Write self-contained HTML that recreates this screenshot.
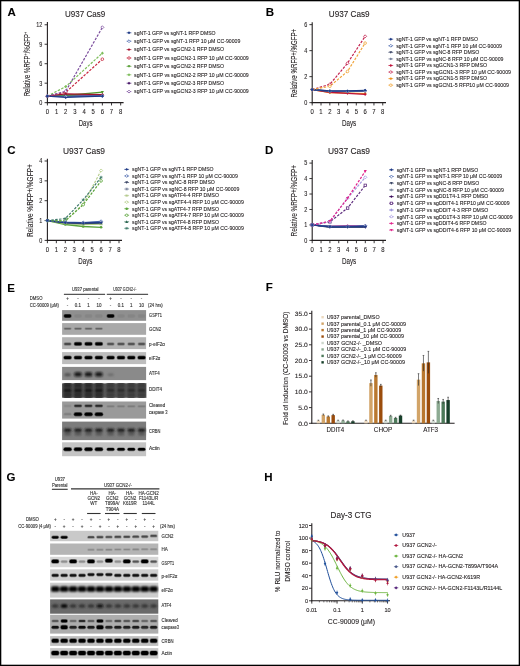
<!DOCTYPE html>
<html><head><meta charset="utf-8"><style>
html,body{margin:0;padding:0;background:#fff;}
svg{display:block;font-family:"Liberation Sans", sans-serif;will-change:transform;}
text{stroke:#231f20;stroke-width:0.1px;stroke-linejoin:round;}
.lt{stroke-width:0.12px;fill:#333;stroke:#333;}
.gp{text-rendering:geometricPrecision;}
</style></head><body>
<svg width="520" height="666" viewBox="0 0 520 666">
<defs><filter id="f1" filterUnits="userSpaceOnUse" x="62.10" y="366.90" width="84.00" height="13.20"><feGaussianBlur stdDeviation="0.9"/></filter><filter id="f2" filterUnits="userSpaceOnUse" x="62.10" y="383.50" width="84.00" height="14.10"><feGaussianBlur stdDeviation="0.9"/></filter><filter id="f3" filterUnits="userSpaceOnUse" x="62.10" y="421.60" width="84.00" height="18.50"><feGaussianBlur stdDeviation="0.9"/></filter><filter id="f4" filterUnits="userSpaceOnUse" x="50.10" y="582.70" width="108.20" height="14.90"><feGaussianBlur stdDeviation="0.9"/></filter><filter id="f5" filterUnits="userSpaceOnUse" x="50.10" y="599.40" width="108.20" height="14.30"><feGaussianBlur stdDeviation="0.9"/></filter></defs>
<rect width="520" height="666" fill="#fff"/>
<rect x="0.6" y="0.6" width="518.8" height="664.8" fill="none" stroke="#000" stroke-width="1.4"/>
<line x1="47.40" y1="22.00" x2="47.40" y2="103.20" stroke="#231f20" stroke-width="1.1"/>
<line x1="46.85" y1="102.65" x2="123.60" y2="102.65" stroke="#231f20" stroke-width="1.1"/>
<line x1="44.60" y1="102.65" x2="47.40" y2="102.65" stroke="#231f20" stroke-width="0.9"/>
<text x="42.40" y="105.00" font-size="6.6" fill="#231f20" text-anchor="end" textLength="3.05" lengthAdjust="spacingAndGlyphs">0</text>
<line x1="44.60" y1="83.18" x2="47.40" y2="83.18" stroke="#231f20" stroke-width="0.9"/>
<text x="42.40" y="85.53" font-size="6.6" fill="#231f20" text-anchor="end" textLength="3.05" lengthAdjust="spacingAndGlyphs">3</text>
<line x1="44.60" y1="63.71" x2="47.40" y2="63.71" stroke="#231f20" stroke-width="0.9"/>
<text x="42.40" y="66.06" font-size="6.6" fill="#231f20" text-anchor="end" textLength="3.05" lengthAdjust="spacingAndGlyphs">6</text>
<line x1="44.60" y1="44.24" x2="47.40" y2="44.24" stroke="#231f20" stroke-width="0.9"/>
<text x="42.40" y="46.59" font-size="6.6" fill="#231f20" text-anchor="end" textLength="3.05" lengthAdjust="spacingAndGlyphs">9</text>
<line x1="44.60" y1="24.77" x2="47.40" y2="24.77" stroke="#231f20" stroke-width="0.9"/>
<text x="42.40" y="27.12" font-size="6.6" fill="#231f20" text-anchor="end" textLength="6.10" lengthAdjust="spacingAndGlyphs">12</text>
<line x1="47.40" y1="102.65" x2="47.40" y2="105.45" stroke="#231f20" stroke-width="0.9"/>
<text x="47.40" y="114.10" font-size="6.9" fill="#231f20" text-anchor="middle" textLength="3.30" lengthAdjust="spacingAndGlyphs">0</text>
<line x1="56.56" y1="102.65" x2="56.56" y2="105.45" stroke="#231f20" stroke-width="0.9"/>
<text x="56.56" y="114.10" font-size="6.9" fill="#231f20" text-anchor="middle" textLength="3.30" lengthAdjust="spacingAndGlyphs">1</text>
<line x1="65.72" y1="102.65" x2="65.72" y2="105.45" stroke="#231f20" stroke-width="0.9"/>
<text x="65.72" y="114.10" font-size="6.9" fill="#231f20" text-anchor="middle" textLength="3.30" lengthAdjust="spacingAndGlyphs">2</text>
<line x1="74.88" y1="102.65" x2="74.88" y2="105.45" stroke="#231f20" stroke-width="0.9"/>
<text x="74.88" y="114.10" font-size="6.9" fill="#231f20" text-anchor="middle" textLength="3.30" lengthAdjust="spacingAndGlyphs">3</text>
<line x1="84.04" y1="102.65" x2="84.04" y2="105.45" stroke="#231f20" stroke-width="0.9"/>
<text x="84.04" y="114.10" font-size="6.9" fill="#231f20" text-anchor="middle" textLength="3.30" lengthAdjust="spacingAndGlyphs">4</text>
<line x1="93.20" y1="102.65" x2="93.20" y2="105.45" stroke="#231f20" stroke-width="0.9"/>
<text x="93.20" y="114.10" font-size="6.9" fill="#231f20" text-anchor="middle" textLength="3.30" lengthAdjust="spacingAndGlyphs">5</text>
<line x1="102.36" y1="102.65" x2="102.36" y2="105.45" stroke="#231f20" stroke-width="0.9"/>
<text x="102.36" y="114.10" font-size="6.9" fill="#231f20" text-anchor="middle" textLength="3.30" lengthAdjust="spacingAndGlyphs">6</text>
<line x1="111.52" y1="102.65" x2="111.52" y2="105.45" stroke="#231f20" stroke-width="0.9"/>
<text x="111.52" y="114.10" font-size="6.9" fill="#231f20" text-anchor="middle" textLength="3.30" lengthAdjust="spacingAndGlyphs">7</text>
<line x1="120.68" y1="102.65" x2="120.68" y2="105.45" stroke="#231f20" stroke-width="0.9"/>
<text x="120.68" y="114.10" font-size="6.9" fill="#231f20" text-anchor="middle" textLength="3.30" lengthAdjust="spacingAndGlyphs">8</text>
<text x="78.80" y="125.60" font-size="8.6" fill="#231f20" textLength="13.60" lengthAdjust="spacingAndGlyphs">Days</text>
<text x="65.00" y="16.70" font-size="8.4" fill="#231f20" textLength="40.20" lengthAdjust="spacingAndGlyphs">U937 Cas9</text>
<text x="7.40" y="16.20" font-size="11.5" fill="#000" font-weight="bold">A</text>
<text x="29.80" y="96.30" font-size="8.2" fill="#231f20" textLength="64.50" lengthAdjust="spacingAndGlyphs" transform="rotate(-90 29.80 96.30)">Relative %RFP<tspan font-size="5" dy="-2.5">+</tspan><tspan dy="2.5">/%GFP</tspan><tspan font-size="5" dy="-2.5">+</tspan></text>
<path d="M47.40,96.16L65.72,95.19L102.36,95.19" fill="none" stroke="#4b1a6b" stroke-width="1.3"/>
<path d="M47.40,96.16L65.72,95.51L102.36,92.14" fill="none" stroke="#4f9a2c" stroke-width="1.3"/>
<path d="M47.40,96.16L65.72,93.89L102.36,94.54" fill="none" stroke="#a3122e" stroke-width="1.3"/>
<path d="M47.40,96.16L65.72,96.48L102.36,95.84" fill="none" stroke="#4866ad" stroke-width="1.3"/>
<path d="M47.40,96.16L65.72,97.46L102.36,96.16" fill="none" stroke="#1f3b87" stroke-width="1.3"/>
<path d="M47.40,96.16L65.72,92.27L102.36,59.17" fill="none" stroke="#c8283f" stroke-width="1.2" stroke-dasharray="2.5,1.4"/>
<path d="M47.40,96.16L65.72,86.62L102.36,53.13" fill="none" stroke="#7dbd5a" stroke-width="1.2" stroke-dasharray="2.5,1.4"/>
<path d="M47.40,96.16L65.72,91.23L102.36,27.37" fill="none" stroke="#7b4d9d" stroke-width="1.2" stroke-dasharray="2.5,1.4"/>
<circle cx="47.40" cy="96.16" r="1.32" fill="#fff" stroke="#c8283f" stroke-width="0.8"/>
<circle cx="65.72" cy="92.27" r="1.32" fill="#fff" stroke="#c8283f" stroke-width="0.8"/>
<circle cx="102.36" cy="59.17" r="1.32" fill="#fff" stroke="#c8283f" stroke-width="0.8"/>
<path d="M45.85,96.16L47.40,94.61L48.95,96.16L47.40,97.71Z" fill="#7dbd5a"/>
<path d="M64.17,86.62L65.72,85.07L67.27,86.62L65.72,88.17Z" fill="#7dbd5a"/>
<path d="M100.81,53.13L102.36,51.58L103.91,53.13L102.36,54.68Z" fill="#7dbd5a"/>
<path d="M45.85,96.16L47.40,94.61L48.95,96.16L47.40,97.71Z" fill="#fff" stroke="#7b4d9d" stroke-width="0.8"/>
<path d="M64.17,91.23L65.72,89.68L67.27,91.23L65.72,92.78Z" fill="#fff" stroke="#7b4d9d" stroke-width="0.8"/>
<path d="M100.81,27.37L102.36,25.82L103.91,27.37L102.36,28.92Z" fill="#fff" stroke="#7b4d9d" stroke-width="0.8"/>
<path d="M45.85,96.16L47.40,94.61L48.95,96.16L47.40,97.71Z" fill="#4b1a6b"/>
<path d="M64.17,95.19L65.72,93.64L67.27,95.19L65.72,96.74Z" fill="#4b1a6b"/>
<path d="M100.81,95.19L102.36,93.64L103.91,95.19L102.36,96.74Z" fill="#4b1a6b"/>
<path d="M45.85,94.92L47.40,97.71L48.95,94.92Z" fill="#4f9a2c"/>
<path d="M64.17,94.27L65.72,97.06L67.27,94.27Z" fill="#4f9a2c"/>
<path d="M100.81,90.90L102.36,93.69L103.91,90.90Z" fill="#4f9a2c"/>
<path d="M45.85,96.16L47.40,94.61L48.95,96.16L47.40,97.71Z" fill="#a3122e"/>
<path d="M64.17,93.89L65.72,92.34L67.27,93.89L65.72,95.44Z" fill="#a3122e"/>
<path d="M100.81,94.54L102.36,92.99L103.91,94.54L102.36,96.09Z" fill="#a3122e"/>
<path d="M45.85,96.16L47.40,94.61L48.95,96.16L47.40,97.71Z" fill="#fff" stroke="#4866ad" stroke-width="0.8"/>
<path d="M64.17,96.48L65.72,94.93L67.27,96.48L65.72,98.03Z" fill="#fff" stroke="#4866ad" stroke-width="0.8"/>
<path d="M100.81,95.84L102.36,94.29L103.91,95.84L102.36,97.39Z" fill="#fff" stroke="#4866ad" stroke-width="0.8"/>
<path d="M45.85,96.16L47.40,94.61L48.95,96.16L47.40,97.71Z" fill="#1f3b87"/>
<path d="M64.17,97.46L65.72,95.91L67.27,97.46L65.72,99.01Z" fill="#1f3b87"/>
<path d="M100.81,96.16L102.36,94.61L103.91,96.16L102.36,97.71Z" fill="#1f3b87"/>
<line x1="126.60" y1="32.80" x2="131.40" y2="32.80" stroke="#1f3b87" stroke-width="0.7"/>
<path d="M127.55,32.80L129.00,31.35L130.45,32.80L129.00,34.25Z" fill="#1f3b87"/>
<text x="134.10" y="34.65" font-size="5.3" fill="#231f20" textLength="81.50" lengthAdjust="spacingAndGlyphs">sgNT-1 GFP vs sgNT-1 RFP DMSO</text>
<line x1="126.60" y1="41.20" x2="131.40" y2="41.20" stroke="#4866ad" stroke-width="0.7"/>
<path d="M127.55,41.20L129.00,39.75L130.45,41.20L129.00,42.65Z" fill="#fff" stroke="#4866ad" stroke-width="0.8"/>
<text x="134.10" y="43.05" font-size="5.3" fill="#231f20" textLength="106.30" lengthAdjust="spacingAndGlyphs">sgNT-1 GFP vs sgNT-1 RFP 10 μM CC-90009</text>
<line x1="126.60" y1="49.60" x2="131.40" y2="49.60" stroke="#a3122e" stroke-width="0.7"/>
<path d="M127.55,49.60L129.00,48.15L130.45,49.60L129.00,51.05Z" fill="#a3122e"/>
<text x="134.10" y="51.45" font-size="5.3" fill="#231f20" textLength="90.00" lengthAdjust="spacingAndGlyphs">sgNT-1 GFP vs sgGCN2-1 RFP DMSO</text>
<line x1="126.60" y1="58.00" x2="131.40" y2="58.00" stroke="#c8283f" stroke-width="0.7"/>
<circle cx="129.00" cy="58.00" r="1.23" fill="#fff" stroke="#c8283f" stroke-width="0.8"/>
<text x="134.10" y="59.85" font-size="5.3" fill="#231f20" textLength="114.60" lengthAdjust="spacingAndGlyphs">sgNT-1 GFP vs sgGCN2-1 RFP 10 μM CC-90009</text>
<line x1="126.60" y1="66.40" x2="131.40" y2="66.40" stroke="#4f9a2c" stroke-width="0.7"/>
<path d="M127.55,65.24L129.00,67.85L130.45,65.24Z" fill="#4f9a2c"/>
<text x="134.10" y="68.25" font-size="5.3" fill="#231f20" textLength="90.00" lengthAdjust="spacingAndGlyphs">sgNT-1 GFP vs sgGCN2-2 RFP DMSO</text>
<line x1="126.60" y1="74.80" x2="131.40" y2="74.80" stroke="#7dbd5a" stroke-width="0.7"/>
<path d="M127.55,74.80L129.00,73.35L130.45,74.80L129.00,76.25Z" fill="#7dbd5a"/>
<text x="134.10" y="76.65" font-size="5.3" fill="#231f20" textLength="114.60" lengthAdjust="spacingAndGlyphs">sgNT-1 GFP vs sgGCN2-2 RFP 10 μM CC-90009</text>
<line x1="126.60" y1="83.20" x2="131.40" y2="83.20" stroke="#4b1a6b" stroke-width="0.7"/>
<path d="M127.55,83.20L129.00,81.75L130.45,83.20L129.00,84.65Z" fill="#4b1a6b"/>
<text x="134.10" y="85.05" font-size="5.3" fill="#231f20" textLength="90.00" lengthAdjust="spacingAndGlyphs">sgNT-1 GFP vs sgGCN2-3 RFP DMSO</text>
<line x1="126.60" y1="91.60" x2="131.40" y2="91.60" stroke="#7b4d9d" stroke-width="0.7"/>
<path d="M127.55,91.60L129.00,90.15L130.45,91.60L129.00,93.05Z" fill="#fff" stroke="#7b4d9d" stroke-width="0.8"/>
<text x="134.10" y="93.45" font-size="5.3" fill="#231f20" textLength="114.60" lengthAdjust="spacingAndGlyphs">sgNT-1 GFP vs sgGCN2-3 RFP 10 μM CC-90009</text>
<line x1="312.20" y1="22.20" x2="312.20" y2="103.20" stroke="#231f20" stroke-width="1.1"/>
<line x1="311.65" y1="102.65" x2="386.00" y2="102.65" stroke="#231f20" stroke-width="1.1"/>
<line x1="309.40" y1="102.65" x2="312.20" y2="102.65" stroke="#231f20" stroke-width="0.9"/>
<text x="307.20" y="105.00" font-size="6.6" fill="#231f20" text-anchor="end" textLength="3.05" lengthAdjust="spacingAndGlyphs">0</text>
<line x1="309.40" y1="76.65" x2="312.20" y2="76.65" stroke="#231f20" stroke-width="0.9"/>
<text x="307.20" y="79.00" font-size="6.6" fill="#231f20" text-anchor="end" textLength="3.05" lengthAdjust="spacingAndGlyphs">2</text>
<line x1="309.40" y1="50.65" x2="312.20" y2="50.65" stroke="#231f20" stroke-width="0.9"/>
<text x="307.20" y="53.00" font-size="6.6" fill="#231f20" text-anchor="end" textLength="3.05" lengthAdjust="spacingAndGlyphs">4</text>
<line x1="309.40" y1="24.65" x2="312.20" y2="24.65" stroke="#231f20" stroke-width="0.9"/>
<text x="307.20" y="27.00" font-size="6.6" fill="#231f20" text-anchor="end" textLength="3.05" lengthAdjust="spacingAndGlyphs">6</text>
<line x1="312.20" y1="102.65" x2="312.20" y2="105.45" stroke="#231f20" stroke-width="0.9"/>
<text x="312.20" y="114.10" font-size="6.9" fill="#231f20" text-anchor="middle" textLength="3.30" lengthAdjust="spacingAndGlyphs">0</text>
<line x1="321.02" y1="102.65" x2="321.02" y2="105.45" stroke="#231f20" stroke-width="0.9"/>
<text x="321.02" y="114.10" font-size="6.9" fill="#231f20" text-anchor="middle" textLength="3.30" lengthAdjust="spacingAndGlyphs">1</text>
<line x1="329.84" y1="102.65" x2="329.84" y2="105.45" stroke="#231f20" stroke-width="0.9"/>
<text x="329.84" y="114.10" font-size="6.9" fill="#231f20" text-anchor="middle" textLength="3.30" lengthAdjust="spacingAndGlyphs">2</text>
<line x1="338.66" y1="102.65" x2="338.66" y2="105.45" stroke="#231f20" stroke-width="0.9"/>
<text x="338.66" y="114.10" font-size="6.9" fill="#231f20" text-anchor="middle" textLength="3.30" lengthAdjust="spacingAndGlyphs">3</text>
<line x1="347.48" y1="102.65" x2="347.48" y2="105.45" stroke="#231f20" stroke-width="0.9"/>
<text x="347.48" y="114.10" font-size="6.9" fill="#231f20" text-anchor="middle" textLength="3.30" lengthAdjust="spacingAndGlyphs">4</text>
<line x1="356.30" y1="102.65" x2="356.30" y2="105.45" stroke="#231f20" stroke-width="0.9"/>
<text x="356.30" y="114.10" font-size="6.9" fill="#231f20" text-anchor="middle" textLength="3.30" lengthAdjust="spacingAndGlyphs">5</text>
<line x1="365.12" y1="102.65" x2="365.12" y2="105.45" stroke="#231f20" stroke-width="0.9"/>
<text x="365.12" y="114.10" font-size="6.9" fill="#231f20" text-anchor="middle" textLength="3.30" lengthAdjust="spacingAndGlyphs">6</text>
<line x1="373.94" y1="102.65" x2="373.94" y2="105.45" stroke="#231f20" stroke-width="0.9"/>
<text x="373.94" y="114.10" font-size="6.9" fill="#231f20" text-anchor="middle" textLength="3.30" lengthAdjust="spacingAndGlyphs">7</text>
<line x1="382.76" y1="102.65" x2="382.76" y2="105.45" stroke="#231f20" stroke-width="0.9"/>
<text x="382.76" y="114.10" font-size="6.9" fill="#231f20" text-anchor="middle" textLength="3.30" lengthAdjust="spacingAndGlyphs">8</text>
<text x="341.90" y="125.60" font-size="8.6" fill="#231f20" textLength="14.30" lengthAdjust="spacingAndGlyphs">Days</text>
<text x="328.80" y="16.70" font-size="8.4" fill="#231f20" textLength="40.70" lengthAdjust="spacingAndGlyphs">U937 Cas9</text>
<text x="265.80" y="16.20" font-size="11.5" fill="#000" font-weight="bold">B</text>
<text x="297.00" y="97.40" font-size="8.4" fill="#231f20" textLength="68.60" lengthAdjust="spacingAndGlyphs" transform="rotate(-90 297.00 97.40)">Relative %RFP+/%GFP+</text>
<path d="M312.20,89.65L329.84,92.51L347.48,93.03L365.12,93.55" fill="none" stroke="#ef8f1a" stroke-width="1.3"/>
<path d="M312.20,89.65L329.84,92.25L347.48,93.29L365.12,94.33" fill="none" stroke="#c0123a" stroke-width="1.3"/>
<path d="M312.20,89.65L329.84,90.95L347.48,91.21L365.12,90.56" fill="none" stroke="#737d98" stroke-width="1.3"/>
<path d="M312.20,89.65L329.84,91.47L347.48,91.60L365.12,91.21" fill="none" stroke="#3a4565" stroke-width="1.3"/>
<path d="M312.20,89.65L329.84,91.21L347.48,91.47L365.12,90.95" fill="none" stroke="#4866ad" stroke-width="1.3"/>
<path d="M312.20,89.65L329.84,90.95L347.48,90.95L365.12,90.30" fill="none" stroke="#1f3b87" stroke-width="1.3"/>
<path d="M312.20,89.65L329.84,84.32L347.48,63.26L365.12,36.35" fill="none" stroke="#c4234f" stroke-width="1.2" stroke-dasharray="2.5,1.4"/>
<path d="M312.20,89.65L329.84,86.27L347.48,71.45L365.12,43.11" fill="none" stroke="#f0a43a" stroke-width="1.2" stroke-dasharray="2.5,1.4"/>
<path d="M310.65,89.65L312.20,88.10L313.75,89.65L312.20,91.20Z" fill="#fff" stroke="#c4234f" stroke-width="0.8"/>
<path d="M328.29,84.32L329.84,82.77L331.39,84.32L329.84,85.87Z" fill="#fff" stroke="#c4234f" stroke-width="0.8"/>
<path d="M345.93,63.26L347.48,61.71L349.03,63.26L347.48,64.81Z" fill="#fff" stroke="#c4234f" stroke-width="0.8"/>
<path d="M363.57,36.35L365.12,34.80L366.67,36.35L365.12,37.90Z" fill="#fff" stroke="#c4234f" stroke-width="0.8"/>
<circle cx="312.20" cy="89.65" r="1.32" fill="#fff" stroke="#f0a43a" stroke-width="0.8"/>
<circle cx="329.84" cy="86.27" r="1.32" fill="#fff" stroke="#f0a43a" stroke-width="0.8"/>
<circle cx="347.48" cy="71.45" r="1.32" fill="#fff" stroke="#f0a43a" stroke-width="0.8"/>
<circle cx="365.12" cy="43.11" r="1.32" fill="#fff" stroke="#f0a43a" stroke-width="0.8"/>
<circle cx="312.20" cy="89.65" r="1.32" fill="#ef8f1a"/>
<circle cx="329.84" cy="92.51" r="1.32" fill="#ef8f1a"/>
<circle cx="347.48" cy="93.03" r="1.32" fill="#ef8f1a"/>
<circle cx="365.12" cy="93.55" r="1.32" fill="#ef8f1a"/>
<path d="M310.65,89.65L312.20,88.10L313.75,89.65L312.20,91.20Z" fill="#c0123a"/>
<path d="M328.29,92.25L329.84,90.70L331.39,92.25L329.84,93.80Z" fill="#c0123a"/>
<path d="M345.93,93.29L347.48,91.74L349.03,93.29L347.48,94.84Z" fill="#c0123a"/>
<path d="M363.57,94.33L365.12,92.78L366.67,94.33L365.12,95.88Z" fill="#c0123a"/>
<path d="M310.65,89.65L312.20,88.10L313.75,89.65L312.20,91.20Z" fill="#737d98"/>
<path d="M328.29,90.95L329.84,89.40L331.39,90.95L329.84,92.50Z" fill="#737d98"/>
<path d="M345.93,91.21L347.48,89.66L349.03,91.21L347.48,92.76Z" fill="#737d98"/>
<path d="M363.57,90.56L365.12,89.01L366.67,90.56L365.12,92.11Z" fill="#737d98"/>
<path d="M310.65,88.41L312.20,91.20L313.75,88.41Z" fill="#3a4565"/>
<path d="M328.29,90.23L329.84,93.02L331.39,90.23Z" fill="#3a4565"/>
<path d="M345.93,90.36L347.48,93.15L349.03,90.36Z" fill="#3a4565"/>
<path d="M363.57,89.97L365.12,92.76L366.67,89.97Z" fill="#3a4565"/>
<path d="M310.65,89.65L312.20,88.10L313.75,89.65L312.20,91.20Z" fill="#fff" stroke="#4866ad" stroke-width="0.8"/>
<path d="M328.29,91.21L329.84,89.66L331.39,91.21L329.84,92.76Z" fill="#fff" stroke="#4866ad" stroke-width="0.8"/>
<path d="M345.93,91.47L347.48,89.92L349.03,91.47L347.48,93.02Z" fill="#fff" stroke="#4866ad" stroke-width="0.8"/>
<path d="M363.57,90.95L365.12,89.40L366.67,90.95L365.12,92.50Z" fill="#fff" stroke="#4866ad" stroke-width="0.8"/>
<path d="M310.65,89.65L312.20,88.10L313.75,89.65L312.20,91.20Z" fill="#1f3b87"/>
<path d="M328.29,90.95L329.84,89.40L331.39,90.95L329.84,92.50Z" fill="#1f3b87"/>
<path d="M345.93,90.95L347.48,89.40L349.03,90.95L347.48,92.50Z" fill="#1f3b87"/>
<path d="M363.57,90.30L365.12,88.75L366.67,90.30L365.12,91.85Z" fill="#1f3b87"/>
<line x1="388.40" y1="39.20" x2="393.20" y2="39.20" stroke="#1f3b87" stroke-width="0.7"/>
<path d="M389.35,39.20L390.80,37.75L392.25,39.20L390.80,40.65Z" fill="#1f3b87"/>
<text x="396.20" y="41.05" font-size="5.3" fill="#231f20" textLength="81.75" lengthAdjust="spacingAndGlyphs">sgNT-1 GFP vs sgNT-1 RFP DMSO</text>
<line x1="388.40" y1="45.77" x2="393.20" y2="45.77" stroke="#4866ad" stroke-width="0.7"/>
<path d="M389.35,45.77L390.80,44.32L392.25,45.77L390.80,47.22Z" fill="#fff" stroke="#4866ad" stroke-width="0.8"/>
<text x="396.20" y="47.62" font-size="5.3" fill="#231f20" textLength="105.80" lengthAdjust="spacingAndGlyphs">sgNT-1 GFP vs sgNT-1 RFP 10 μM CC-90009</text>
<line x1="388.40" y1="52.34" x2="393.20" y2="52.34" stroke="#3a4565" stroke-width="0.7"/>
<path d="M389.35,51.18L390.80,53.79L392.25,51.18Z" fill="#3a4565"/>
<text x="396.20" y="54.19" font-size="5.3" fill="#231f20" textLength="83.00" lengthAdjust="spacingAndGlyphs">sgNT-1 GFP vs sgNC-8 RFP DMSO</text>
<line x1="388.40" y1="58.91" x2="393.20" y2="58.91" stroke="#737d98" stroke-width="0.7"/>
<path d="M389.35,58.91L390.80,57.46L392.25,58.91L390.80,60.36Z" fill="#737d98"/>
<text x="396.20" y="60.76" font-size="5.3" fill="#231f20" textLength="107.30" lengthAdjust="spacingAndGlyphs">sgNT-1 GFP vs sgNC-8 RFP 10 μM CC-90009</text>
<line x1="388.40" y1="65.48" x2="393.20" y2="65.48" stroke="#c0123a" stroke-width="0.7"/>
<path d="M389.35,65.48L390.80,64.03L392.25,65.48L390.80,66.93Z" fill="#c0123a"/>
<text x="396.20" y="67.33" font-size="5.3" fill="#231f20" textLength="90.80" lengthAdjust="spacingAndGlyphs">sgNT-1 GFP vs sgGCN1-3 RFP DMSO</text>
<line x1="388.40" y1="72.05" x2="393.20" y2="72.05" stroke="#c4234f" stroke-width="0.7"/>
<path d="M389.35,72.05L390.80,70.60L392.25,72.05L390.80,73.50Z" fill="#fff" stroke="#c4234f" stroke-width="0.8"/>
<text x="396.20" y="73.90" font-size="5.3" fill="#231f20" textLength="114.80" lengthAdjust="spacingAndGlyphs">sgNT-1 GFP vs sgGCN1-3 RFP 10 μM CC-90009</text>
<line x1="388.40" y1="78.62" x2="393.20" y2="78.62" stroke="#ef8f1a" stroke-width="0.7"/>
<circle cx="390.80" cy="78.62" r="1.23" fill="#ef8f1a"/>
<text x="396.20" y="80.47" font-size="5.3" fill="#231f20" textLength="90.80" lengthAdjust="spacingAndGlyphs">sgNT-1 GFP vs sgGCN1-5 RFP DMSO</text>
<line x1="388.40" y1="85.19" x2="393.20" y2="85.19" stroke="#f0a43a" stroke-width="0.7"/>
<circle cx="390.80" cy="85.19" r="1.23" fill="#fff" stroke="#f0a43a" stroke-width="0.8"/>
<text x="396.20" y="87.04" font-size="5.3" fill="#231f20" textLength="112.80" lengthAdjust="spacingAndGlyphs">sgNT-1 GFP vs sgGCN1-5 RFP10 μM CC-90009</text>
<line x1="47.40" y1="158.80" x2="47.40" y2="240.95" stroke="#231f20" stroke-width="1.1"/>
<line x1="46.85" y1="240.40" x2="122.00" y2="240.40" stroke="#231f20" stroke-width="1.1"/>
<line x1="44.60" y1="240.40" x2="47.40" y2="240.40" stroke="#231f20" stroke-width="0.9"/>
<text x="42.40" y="242.75" font-size="6.6" fill="#231f20" text-anchor="end" textLength="3.05" lengthAdjust="spacingAndGlyphs">0</text>
<line x1="44.60" y1="220.55" x2="47.40" y2="220.55" stroke="#231f20" stroke-width="0.9"/>
<text x="42.40" y="222.90" font-size="6.6" fill="#231f20" text-anchor="end" textLength="3.05" lengthAdjust="spacingAndGlyphs">1</text>
<line x1="44.60" y1="200.70" x2="47.40" y2="200.70" stroke="#231f20" stroke-width="0.9"/>
<text x="42.40" y="203.05" font-size="6.6" fill="#231f20" text-anchor="end" textLength="3.05" lengthAdjust="spacingAndGlyphs">2</text>
<line x1="44.60" y1="180.85" x2="47.40" y2="180.85" stroke="#231f20" stroke-width="0.9"/>
<text x="42.40" y="183.20" font-size="6.6" fill="#231f20" text-anchor="end" textLength="3.05" lengthAdjust="spacingAndGlyphs">3</text>
<line x1="44.60" y1="161.00" x2="47.40" y2="161.00" stroke="#231f20" stroke-width="0.9"/>
<text x="42.40" y="163.35" font-size="6.6" fill="#231f20" text-anchor="end" textLength="3.05" lengthAdjust="spacingAndGlyphs">4</text>
<line x1="47.40" y1="240.40" x2="47.40" y2="243.20" stroke="#231f20" stroke-width="0.9"/>
<text x="47.40" y="251.80" font-size="6.9" fill="#231f20" text-anchor="middle" textLength="3.30" lengthAdjust="spacingAndGlyphs">0</text>
<line x1="56.35" y1="240.40" x2="56.35" y2="243.20" stroke="#231f20" stroke-width="0.9"/>
<text x="56.35" y="251.80" font-size="6.9" fill="#231f20" text-anchor="middle" textLength="3.30" lengthAdjust="spacingAndGlyphs">1</text>
<line x1="65.30" y1="240.40" x2="65.30" y2="243.20" stroke="#231f20" stroke-width="0.9"/>
<text x="65.30" y="251.80" font-size="6.9" fill="#231f20" text-anchor="middle" textLength="3.30" lengthAdjust="spacingAndGlyphs">2</text>
<line x1="74.25" y1="240.40" x2="74.25" y2="243.20" stroke="#231f20" stroke-width="0.9"/>
<text x="74.25" y="251.80" font-size="6.9" fill="#231f20" text-anchor="middle" textLength="3.30" lengthAdjust="spacingAndGlyphs">3</text>
<line x1="83.20" y1="240.40" x2="83.20" y2="243.20" stroke="#231f20" stroke-width="0.9"/>
<text x="83.20" y="251.80" font-size="6.9" fill="#231f20" text-anchor="middle" textLength="3.30" lengthAdjust="spacingAndGlyphs">4</text>
<line x1="92.15" y1="240.40" x2="92.15" y2="243.20" stroke="#231f20" stroke-width="0.9"/>
<text x="92.15" y="251.80" font-size="6.9" fill="#231f20" text-anchor="middle" textLength="3.30" lengthAdjust="spacingAndGlyphs">5</text>
<line x1="101.10" y1="240.40" x2="101.10" y2="243.20" stroke="#231f20" stroke-width="0.9"/>
<text x="101.10" y="251.80" font-size="6.9" fill="#231f20" text-anchor="middle" textLength="3.30" lengthAdjust="spacingAndGlyphs">6</text>
<line x1="110.05" y1="240.40" x2="110.05" y2="243.20" stroke="#231f20" stroke-width="0.9"/>
<text x="110.05" y="251.80" font-size="6.9" fill="#231f20" text-anchor="middle" textLength="3.30" lengthAdjust="spacingAndGlyphs">7</text>
<line x1="119.00" y1="240.40" x2="119.00" y2="243.20" stroke="#231f20" stroke-width="0.9"/>
<text x="119.00" y="251.80" font-size="6.9" fill="#231f20" text-anchor="middle" textLength="3.30" lengthAdjust="spacingAndGlyphs">8</text>
<text x="78.30" y="263.70" font-size="8.6" fill="#231f20" textLength="14.00" lengthAdjust="spacingAndGlyphs">Days</text>
<text x="63.00" y="154.00" font-size="8.4" fill="#231f20" textLength="42.00" lengthAdjust="spacingAndGlyphs">U937 Cas9</text>
<text x="7.20" y="153.90" font-size="11.5" fill="#000" font-weight="bold">C</text>
<text x="33.30" y="237.00" font-size="8.4" fill="#231f20" textLength="72.80" lengthAdjust="spacingAndGlyphs" transform="rotate(-90 33.30 237.00)">Relative %RFP+/%GFP+</text>
<path d="M47.40,220.55L65.30,223.53L83.20,223.73L101.10,223.33" fill="none" stroke="#28644f" stroke-width="1.3"/>
<path d="M47.40,220.55L65.30,224.52L83.20,226.50L101.10,227.30" fill="none" stroke="#5aa43a" stroke-width="1.3"/>
<path d="M47.40,220.55L65.30,223.33L83.20,224.52L101.10,224.12" fill="none" stroke="#b3c98a" stroke-width="1.3"/>
<path d="M47.40,220.55L65.30,222.53L83.20,222.93L101.10,222.14" fill="none" stroke="#737d98" stroke-width="1.3"/>
<path d="M47.40,220.55L65.30,222.93L83.20,223.53L101.10,222.93" fill="none" stroke="#3a4565" stroke-width="1.3"/>
<path d="M47.40,220.55L65.30,222.14L83.20,222.53L101.10,221.34" fill="none" stroke="#4866ad" stroke-width="1.3"/>
<path d="M47.40,220.55L65.30,222.53L83.20,222.93L101.10,222.53" fill="none" stroke="#1f3b87" stroke-width="1.3"/>
<path d="M47.40,220.55L65.30,220.55L83.20,204.27L101.10,170.53" fill="none" stroke="#b8cf8e" stroke-width="1.2" stroke-dasharray="2.5,1.4"/>
<path d="M47.40,220.55L65.30,220.95L83.20,204.67L101.10,180.85" fill="none" stroke="#5aa43a" stroke-width="1.2" stroke-dasharray="2.5,1.4"/>
<path d="M47.40,220.55L65.30,218.56L83.20,199.91L101.10,177.28" fill="none" stroke="#3d7868" stroke-width="1.2" stroke-dasharray="2.5,1.4"/>
<path d="M45.85,220.55L47.40,219.00L48.95,220.55L47.40,222.10Z" fill="#fff" stroke="#b8cf8e" stroke-width="0.8"/>
<path d="M63.75,220.55L65.30,219.00L66.85,220.55L65.30,222.10Z" fill="#fff" stroke="#b8cf8e" stroke-width="0.8"/>
<path d="M81.65,204.27L83.20,202.72L84.75,204.27L83.20,205.82Z" fill="#fff" stroke="#b8cf8e" stroke-width="0.8"/>
<path d="M99.55,170.53L101.10,168.98L102.65,170.53L101.10,172.08Z" fill="#fff" stroke="#b8cf8e" stroke-width="0.8"/>
<circle cx="47.40" cy="220.55" r="1.32" fill="#fff" stroke="#5aa43a" stroke-width="0.8"/>
<circle cx="65.30" cy="220.95" r="1.32" fill="#fff" stroke="#5aa43a" stroke-width="0.8"/>
<circle cx="83.20" cy="204.67" r="1.32" fill="#fff" stroke="#5aa43a" stroke-width="0.8"/>
<circle cx="101.10" cy="180.85" r="1.32" fill="#fff" stroke="#5aa43a" stroke-width="0.8"/>
<path d="M45.85,220.55H48.95M47.40,219.00V222.10M46.31,219.47L48.48,221.64M46.31,221.64L48.48,219.47" stroke="#3d7868" stroke-width="0.6"/>
<path d="M63.75,218.56H66.85M65.30,217.01V220.12M64.22,217.48L66.38,219.65M64.22,219.65L66.38,217.48" stroke="#3d7868" stroke-width="0.6"/>
<path d="M81.65,199.91H84.75M83.20,198.36V201.46M82.11,198.82L84.28,200.99M82.11,200.99L84.28,198.82" stroke="#3d7868" stroke-width="0.6"/>
<path d="M99.55,177.28H102.65M101.10,175.73V178.83M100.02,176.19L102.18,178.36M100.02,178.36L102.18,176.19" stroke="#3d7868" stroke-width="0.6"/>
<path d="M45.85,221.79L47.40,219.00L48.95,221.79Z" fill="#28644f"/>
<path d="M63.75,224.77L65.30,221.98L66.85,224.77Z" fill="#28644f"/>
<path d="M81.65,224.97L83.20,222.18L84.75,224.97Z" fill="#28644f"/>
<path d="M99.55,224.57L101.10,221.78L102.65,224.57Z" fill="#28644f"/>
<circle cx="47.40" cy="220.55" r="1.32" fill="#5aa43a"/>
<circle cx="65.30" cy="224.52" r="1.32" fill="#5aa43a"/>
<circle cx="83.20" cy="226.50" r="1.32" fill="#5aa43a"/>
<circle cx="101.10" cy="227.30" r="1.32" fill="#5aa43a"/>
<path d="M45.85,220.55H48.95M47.40,219.00V222.10M46.31,219.47L48.48,221.64M46.31,221.64L48.48,219.47" stroke="#b3c98a" stroke-width="0.6"/>
<path d="M63.75,223.33H66.85M65.30,221.78V224.88M64.22,222.24L66.38,224.41M64.22,224.41L66.38,222.24" stroke="#b3c98a" stroke-width="0.6"/>
<path d="M81.65,224.52H84.75M83.20,222.97V226.07M82.11,223.44L84.28,225.61M82.11,225.61L84.28,223.44" stroke="#b3c98a" stroke-width="0.6"/>
<path d="M99.55,224.12H102.65M101.10,222.57V225.67M100.02,223.04L102.18,225.21M100.02,225.21L102.18,223.04" stroke="#b3c98a" stroke-width="0.6"/>
<path d="M45.85,220.55H48.95M47.40,219.00V222.10M46.31,219.47L48.48,221.64M46.31,221.64L48.48,219.47" stroke="#737d98" stroke-width="0.6"/>
<path d="M63.75,222.53H66.85M65.30,220.98V224.09M64.22,221.45L66.38,223.62M64.22,223.62L66.38,221.45" stroke="#737d98" stroke-width="0.6"/>
<path d="M81.65,222.93H84.75M83.20,221.38V224.48M82.11,221.85L84.28,224.02M82.11,224.02L84.28,221.85" stroke="#737d98" stroke-width="0.6"/>
<path d="M99.55,222.14H102.65M101.10,220.59V223.69M100.02,221.05L102.18,223.22M100.02,223.22L102.18,221.05" stroke="#737d98" stroke-width="0.6"/>
<path d="M45.85,219.31L47.40,222.10L48.95,219.31Z" fill="#3a4565"/>
<path d="M63.75,221.69L65.30,224.48L66.85,221.69Z" fill="#3a4565"/>
<path d="M81.65,222.29L83.20,225.08L84.75,222.29Z" fill="#3a4565"/>
<path d="M99.55,221.69L101.10,224.48L102.65,221.69Z" fill="#3a4565"/>
<path d="M45.85,220.55L47.40,219.00L48.95,220.55L47.40,222.10Z" fill="#fff" stroke="#4866ad" stroke-width="0.8"/>
<path d="M63.75,222.14L65.30,220.59L66.85,222.14L65.30,223.69Z" fill="#fff" stroke="#4866ad" stroke-width="0.8"/>
<path d="M81.65,222.53L83.20,220.98L84.75,222.53L83.20,224.09Z" fill="#fff" stroke="#4866ad" stroke-width="0.8"/>
<path d="M99.55,221.34L101.10,219.79L102.65,221.34L101.10,222.89Z" fill="#fff" stroke="#4866ad" stroke-width="0.8"/>
<path d="M45.85,220.55L47.40,219.00L48.95,220.55L47.40,222.10Z" fill="#1f3b87"/>
<path d="M63.75,222.53L65.30,220.98L66.85,222.53L65.30,224.09Z" fill="#1f3b87"/>
<path d="M81.65,222.93L83.20,221.38L84.75,222.93L83.20,224.48Z" fill="#1f3b87"/>
<path d="M99.55,222.53L101.10,220.98L102.65,222.53L101.10,224.09Z" fill="#1f3b87"/>
<line x1="124.30" y1="169.40" x2="129.10" y2="169.40" stroke="#1f3b87" stroke-width="0.7"/>
<path d="M125.25,169.40L126.70,167.95L128.15,169.40L126.70,170.85Z" fill="#1f3b87"/>
<text x="132.10" y="171.25" font-size="5.3" fill="#231f20" textLength="81.50" lengthAdjust="spacingAndGlyphs">sgNT-1 GFP vs sgNT-1 RFP DMSO</text>
<line x1="124.30" y1="175.95" x2="129.10" y2="175.95" stroke="#4866ad" stroke-width="0.7"/>
<path d="M125.25,175.95L126.70,174.50L128.15,175.95L126.70,177.40Z" fill="#fff" stroke="#4866ad" stroke-width="0.8"/>
<text x="132.10" y="177.80" font-size="5.3" fill="#231f20" textLength="105.70" lengthAdjust="spacingAndGlyphs">sgNT-1 GFP vs sgNT-1 RFP 10 μM CC-90009</text>
<line x1="124.30" y1="182.50" x2="129.10" y2="182.50" stroke="#3a4565" stroke-width="0.7"/>
<path d="M125.25,181.34L126.70,183.95L128.15,181.34Z" fill="#3a4565"/>
<text x="132.10" y="184.35" font-size="5.3" fill="#231f20" textLength="82.80" lengthAdjust="spacingAndGlyphs">sgNT-1 GFP vs sgNC-8 RFP DMSO</text>
<line x1="124.30" y1="189.05" x2="129.10" y2="189.05" stroke="#737d98" stroke-width="0.7"/>
<path d="M125.25,189.05H128.15M126.70,187.60V190.50M125.69,188.04L127.72,190.06M125.69,190.06L127.72,188.04" stroke="#737d98" stroke-width="0.6"/>
<text x="132.10" y="190.90" font-size="5.3" fill="#231f20" textLength="107.30" lengthAdjust="spacingAndGlyphs">sgNT-1 GFP vs sgNC-8 RFP 10 μM CC-90009</text>
<line x1="124.30" y1="195.60" x2="129.10" y2="195.60" stroke="#b3c98a" stroke-width="0.7"/>
<path d="M125.25,195.60H128.15M126.70,194.15V197.05M125.69,194.59L127.72,196.61M125.69,196.61L127.72,194.59" stroke="#b3c98a" stroke-width="0.6"/>
<text x="132.10" y="197.45" font-size="5.3" fill="#231f20" textLength="86.80" lengthAdjust="spacingAndGlyphs">sgNT-1 GFP vs sgATF4-4 RFP DMSO</text>
<line x1="124.30" y1="202.15" x2="129.10" y2="202.15" stroke="#b8cf8e" stroke-width="0.7"/>
<path d="M125.25,202.15L126.70,200.70L128.15,202.15L126.70,203.60Z" fill="#fff" stroke="#b8cf8e" stroke-width="0.8"/>
<text x="132.10" y="204.00" font-size="5.3" fill="#231f20" textLength="111.70" lengthAdjust="spacingAndGlyphs">sgNT-1 GFP vs sgATF4-4 RFP 10 μM CC-90009</text>
<line x1="124.30" y1="208.70" x2="129.10" y2="208.70" stroke="#5aa43a" stroke-width="0.7"/>
<circle cx="126.70" cy="208.70" r="1.23" fill="#5aa43a"/>
<text x="132.10" y="210.55" font-size="5.3" fill="#231f20" textLength="86.80" lengthAdjust="spacingAndGlyphs">sgNT-1 GFP vs sgATF4-7 RFP DMSO</text>
<line x1="124.30" y1="215.25" x2="129.10" y2="215.25" stroke="#5aa43a" stroke-width="0.7"/>
<circle cx="126.70" cy="215.25" r="1.23" fill="#fff" stroke="#5aa43a" stroke-width="0.8"/>
<text x="132.10" y="217.10" font-size="5.3" fill="#231f20" textLength="111.70" lengthAdjust="spacingAndGlyphs">sgNT-1 GFP vs sgATF4-7 RFP 10 μM CC-90009</text>
<line x1="124.30" y1="221.80" x2="129.10" y2="221.80" stroke="#28644f" stroke-width="0.7"/>
<path d="M125.25,222.96L126.70,220.35L128.15,222.96Z" fill="#28644f"/>
<text x="132.10" y="223.65" font-size="5.3" fill="#231f20" textLength="86.80" lengthAdjust="spacingAndGlyphs">sgNT-1 GFP vs sgATF4-8 RFP DMSO</text>
<line x1="124.30" y1="228.35" x2="129.10" y2="228.35" stroke="#3d7868" stroke-width="0.7"/>
<path d="M125.25,228.35H128.15M126.70,226.90V229.80M125.69,227.34L127.72,229.36M125.69,229.36L127.72,227.34" stroke="#3d7868" stroke-width="0.6"/>
<text x="132.10" y="230.20" font-size="5.3" fill="#231f20" textLength="111.70" lengthAdjust="spacingAndGlyphs">sgNT-1 GFP vs sgATF4-8 RFP 10 μM CC-90009</text>
<line x1="312.20" y1="160.00" x2="312.20" y2="240.95" stroke="#231f20" stroke-width="1.1"/>
<line x1="311.65" y1="240.40" x2="386.00" y2="240.40" stroke="#231f20" stroke-width="1.1"/>
<line x1="309.40" y1="240.40" x2="312.20" y2="240.40" stroke="#231f20" stroke-width="0.9"/>
<text x="307.20" y="242.75" font-size="6.6" fill="#231f20" text-anchor="end" textLength="3.05" lengthAdjust="spacingAndGlyphs">0</text>
<line x1="309.40" y1="224.94" x2="312.20" y2="224.94" stroke="#231f20" stroke-width="0.9"/>
<text x="307.20" y="227.29" font-size="6.6" fill="#231f20" text-anchor="end" textLength="3.05" lengthAdjust="spacingAndGlyphs">1</text>
<line x1="309.40" y1="209.48" x2="312.20" y2="209.48" stroke="#231f20" stroke-width="0.9"/>
<text x="307.20" y="211.83" font-size="6.6" fill="#231f20" text-anchor="end" textLength="3.05" lengthAdjust="spacingAndGlyphs">2</text>
<line x1="309.40" y1="194.02" x2="312.20" y2="194.02" stroke="#231f20" stroke-width="0.9"/>
<text x="307.20" y="196.37" font-size="6.6" fill="#231f20" text-anchor="end" textLength="3.05" lengthAdjust="spacingAndGlyphs">3</text>
<line x1="309.40" y1="178.56" x2="312.20" y2="178.56" stroke="#231f20" stroke-width="0.9"/>
<text x="307.20" y="180.91" font-size="6.6" fill="#231f20" text-anchor="end" textLength="3.05" lengthAdjust="spacingAndGlyphs">4</text>
<line x1="309.40" y1="163.10" x2="312.20" y2="163.10" stroke="#231f20" stroke-width="0.9"/>
<text x="307.20" y="165.45" font-size="6.6" fill="#231f20" text-anchor="end" textLength="3.05" lengthAdjust="spacingAndGlyphs">5</text>
<line x1="312.20" y1="240.40" x2="312.20" y2="243.20" stroke="#231f20" stroke-width="0.9"/>
<text x="312.20" y="251.80" font-size="6.9" fill="#231f20" text-anchor="middle" textLength="3.30" lengthAdjust="spacingAndGlyphs">0</text>
<line x1="321.05" y1="240.40" x2="321.05" y2="243.20" stroke="#231f20" stroke-width="0.9"/>
<text x="321.05" y="251.80" font-size="6.9" fill="#231f20" text-anchor="middle" textLength="3.30" lengthAdjust="spacingAndGlyphs">1</text>
<line x1="329.90" y1="240.40" x2="329.90" y2="243.20" stroke="#231f20" stroke-width="0.9"/>
<text x="329.90" y="251.80" font-size="6.9" fill="#231f20" text-anchor="middle" textLength="3.30" lengthAdjust="spacingAndGlyphs">2</text>
<line x1="338.75" y1="240.40" x2="338.75" y2="243.20" stroke="#231f20" stroke-width="0.9"/>
<text x="338.75" y="251.80" font-size="6.9" fill="#231f20" text-anchor="middle" textLength="3.30" lengthAdjust="spacingAndGlyphs">3</text>
<line x1="347.60" y1="240.40" x2="347.60" y2="243.20" stroke="#231f20" stroke-width="0.9"/>
<text x="347.60" y="251.80" font-size="6.9" fill="#231f20" text-anchor="middle" textLength="3.30" lengthAdjust="spacingAndGlyphs">4</text>
<line x1="356.45" y1="240.40" x2="356.45" y2="243.20" stroke="#231f20" stroke-width="0.9"/>
<text x="356.45" y="251.80" font-size="6.9" fill="#231f20" text-anchor="middle" textLength="3.30" lengthAdjust="spacingAndGlyphs">5</text>
<line x1="365.30" y1="240.40" x2="365.30" y2="243.20" stroke="#231f20" stroke-width="0.9"/>
<text x="365.30" y="251.80" font-size="6.9" fill="#231f20" text-anchor="middle" textLength="3.30" lengthAdjust="spacingAndGlyphs">6</text>
<line x1="374.15" y1="240.40" x2="374.15" y2="243.20" stroke="#231f20" stroke-width="0.9"/>
<text x="374.15" y="251.80" font-size="6.9" fill="#231f20" text-anchor="middle" textLength="3.30" lengthAdjust="spacingAndGlyphs">7</text>
<line x1="383.00" y1="240.40" x2="383.00" y2="243.20" stroke="#231f20" stroke-width="0.9"/>
<text x="383.00" y="251.80" font-size="6.9" fill="#231f20" text-anchor="middle" textLength="3.30" lengthAdjust="spacingAndGlyphs">8</text>
<text x="341.90" y="263.70" font-size="8.6" fill="#231f20" textLength="14.30" lengthAdjust="spacingAndGlyphs">Days</text>
<text x="328.00" y="154.00" font-size="8.4" fill="#231f20" textLength="42.00" lengthAdjust="spacingAndGlyphs">U937 Cas9</text>
<text x="264.90" y="153.90" font-size="11.5" fill="#000" font-weight="bold">D</text>
<text x="297.40" y="236.40" font-size="8.4" fill="#231f20" textLength="71.50" lengthAdjust="spacingAndGlyphs" transform="rotate(-90 297.40 236.40)">Relative %RFP+/%GFP+</text>
<path d="M312.20,224.94L329.90,226.49L347.60,225.87L365.30,225.71" fill="none" stroke="#e2238c" stroke-width="1.3"/>
<path d="M312.20,224.94L329.90,226.80L347.60,226.49L365.30,227.10" fill="none" stroke="#8a7fd4" stroke-width="1.3"/>
<path d="M312.20,224.94L329.90,226.49L347.60,226.49L365.30,226.80" fill="none" stroke="#3b0b5c" stroke-width="1.3"/>
<path d="M312.20,224.94L329.90,226.49L347.60,226.80L365.30,226.18" fill="none" stroke="#737d98" stroke-width="1.3"/>
<path d="M312.20,224.94L329.90,227.26L347.60,227.10L365.30,227.10" fill="none" stroke="#3a4565" stroke-width="1.3"/>
<path d="M312.20,224.94L329.90,226.49L347.60,226.49L365.30,225.71" fill="none" stroke="#4866ad" stroke-width="1.3"/>
<path d="M312.20,224.94L329.90,226.80L347.60,226.80L365.30,226.49" fill="none" stroke="#1f3b87" stroke-width="1.3"/>
<path d="M312.20,224.94L329.90,221.85L347.60,208.09L365.30,185.36" fill="none" stroke="#5e2d7e" stroke-width="1.2" stroke-dasharray="2.5,1.4"/>
<path d="M312.20,224.94L329.90,221.23L347.60,198.19L365.30,177.32" fill="none" stroke="#a396e0" stroke-width="1.2" stroke-dasharray="2.5,1.4"/>
<path d="M312.20,224.94L329.90,221.23L347.60,198.19L365.30,171.14" fill="none" stroke="#e2238c" stroke-width="1.2" stroke-dasharray="2.5,1.4"/>
<rect x="310.96" y="223.70" width="2.48" height="2.48" fill="#fff" stroke="#5e2d7e" stroke-width="0.8"/>
<rect x="328.66" y="220.61" width="2.48" height="2.48" fill="#fff" stroke="#5e2d7e" stroke-width="0.8"/>
<rect x="346.36" y="206.85" width="2.48" height="2.48" fill="#fff" stroke="#5e2d7e" stroke-width="0.8"/>
<rect x="364.06" y="184.12" width="2.48" height="2.48" fill="#fff" stroke="#5e2d7e" stroke-width="0.8"/>
<path d="M310.65,224.94L312.20,223.39L313.75,224.94L312.20,226.49Z" fill="#fff" stroke="#a396e0" stroke-width="0.8"/>
<path d="M328.35,221.23L329.90,219.68L331.45,221.23L329.90,222.78Z" fill="#fff" stroke="#a396e0" stroke-width="0.8"/>
<path d="M346.05,198.19L347.60,196.64L349.15,198.19L347.60,199.74Z" fill="#fff" stroke="#a396e0" stroke-width="0.8"/>
<path d="M363.75,177.32L365.30,175.77L366.85,177.32L365.30,178.87Z" fill="#fff" stroke="#a396e0" stroke-width="0.8"/>
<path d="M310.65,223.70L312.20,226.49L313.75,223.70Z" fill="#e2238c"/>
<path d="M328.35,219.99L329.90,222.78L331.45,219.99Z" fill="#e2238c"/>
<path d="M346.05,196.95L347.60,199.74L349.15,196.95Z" fill="#e2238c"/>
<path d="M363.75,169.90L365.30,172.69L366.85,169.90Z" fill="#e2238c"/>
<path d="M310.65,224.94L312.20,223.39L313.75,224.94L312.20,226.49Z" fill="#e2238c"/>
<path d="M328.35,226.49L329.90,224.94L331.45,226.49L329.90,228.04Z" fill="#e2238c"/>
<path d="M346.05,225.87L347.60,224.32L349.15,225.87L347.60,227.42Z" fill="#e2238c"/>
<path d="M363.75,225.71L365.30,224.16L366.85,225.71L365.30,227.26Z" fill="#e2238c"/>
<path d="M310.65,224.94H313.75M312.20,223.39V226.49" stroke="#8a7fd4" stroke-width="0.7"/>
<path d="M328.35,226.80H331.45M329.90,225.25V228.35" stroke="#8a7fd4" stroke-width="0.7"/>
<path d="M346.05,226.49H349.15M347.60,224.94V228.04" stroke="#8a7fd4" stroke-width="0.7"/>
<path d="M363.75,227.10H366.85M365.30,225.55V228.65" stroke="#8a7fd4" stroke-width="0.7"/>
<path d="M310.65,224.94L312.20,223.39L313.75,224.94L312.20,226.49Z" fill="#3b0b5c"/>
<path d="M328.35,226.49L329.90,224.94L331.45,226.49L329.90,228.04Z" fill="#3b0b5c"/>
<path d="M346.05,226.49L347.60,224.94L349.15,226.49L347.60,228.04Z" fill="#3b0b5c"/>
<path d="M363.75,226.80L365.30,225.25L366.85,226.80L365.30,228.35Z" fill="#3b0b5c"/>
<path d="M310.65,224.94H313.75M312.20,223.39V226.49M311.12,223.85L313.28,226.03M311.12,226.03L313.28,223.85" stroke="#737d98" stroke-width="0.6"/>
<path d="M328.35,226.49H331.45M329.90,224.94V228.04M328.81,225.40L330.98,227.57M328.81,227.57L330.98,225.40" stroke="#737d98" stroke-width="0.6"/>
<path d="M346.05,226.80H349.15M347.60,225.25V228.35M346.51,225.71L348.68,227.88M346.51,227.88L348.68,225.71" stroke="#737d98" stroke-width="0.6"/>
<path d="M363.75,226.18H366.85M365.30,224.63V227.73M364.21,225.09L366.38,227.26M364.21,227.26L366.38,225.09" stroke="#737d98" stroke-width="0.6"/>
<path d="M310.65,223.70L312.20,226.49L313.75,223.70Z" fill="#3a4565"/>
<path d="M328.35,226.02L329.90,228.81L331.45,226.02Z" fill="#3a4565"/>
<path d="M346.05,225.86L347.60,228.65L349.15,225.86Z" fill="#3a4565"/>
<path d="M363.75,225.86L365.30,228.65L366.85,225.86Z" fill="#3a4565"/>
<path d="M310.65,224.94L312.20,223.39L313.75,224.94L312.20,226.49Z" fill="#fff" stroke="#4866ad" stroke-width="0.8"/>
<path d="M328.35,226.49L329.90,224.94L331.45,226.49L329.90,228.04Z" fill="#fff" stroke="#4866ad" stroke-width="0.8"/>
<path d="M346.05,226.49L347.60,224.94L349.15,226.49L347.60,228.04Z" fill="#fff" stroke="#4866ad" stroke-width="0.8"/>
<path d="M363.75,225.71L365.30,224.16L366.85,225.71L365.30,227.26Z" fill="#fff" stroke="#4866ad" stroke-width="0.8"/>
<path d="M310.65,224.94L312.20,223.39L313.75,224.94L312.20,226.49Z" fill="#1f3b87"/>
<path d="M328.35,226.80L329.90,225.25L331.45,226.80L329.90,228.35Z" fill="#1f3b87"/>
<path d="M346.05,226.80L347.60,225.25L349.15,226.80L347.60,228.35Z" fill="#1f3b87"/>
<path d="M363.75,226.49L365.30,224.94L366.85,226.49L365.30,228.04Z" fill="#1f3b87"/>
<line x1="389.00" y1="169.80" x2="393.80" y2="169.80" stroke="#1f3b87" stroke-width="0.7"/>
<path d="M389.95,169.80L391.40,168.35L392.85,169.80L391.40,171.25Z" fill="#1f3b87"/>
<text x="396.80" y="171.65" font-size="5.3" fill="#231f20" textLength="81.50" lengthAdjust="spacingAndGlyphs">sgNT-1 GFP vs sgNT-1 RFP DMSO</text>
<line x1="389.00" y1="176.50" x2="393.80" y2="176.50" stroke="#4866ad" stroke-width="0.7"/>
<path d="M389.95,176.50L391.40,175.05L392.85,176.50L391.40,177.95Z" fill="#fff" stroke="#4866ad" stroke-width="0.8"/>
<text x="396.80" y="178.35" font-size="5.3" fill="#231f20" textLength="105.40" lengthAdjust="spacingAndGlyphs">sgNT-1 GFP vs sgNT-1 RFP 10 μM CC-90009</text>
<line x1="389.00" y1="183.20" x2="393.80" y2="183.20" stroke="#3a4565" stroke-width="0.7"/>
<path d="M389.95,182.04L391.40,184.65L392.85,182.04Z" fill="#3a4565"/>
<text x="396.80" y="185.05" font-size="5.3" fill="#231f20" textLength="82.50" lengthAdjust="spacingAndGlyphs">sgNT-1 GFP vs sgNC-8 RFP DMSO</text>
<line x1="389.00" y1="189.90" x2="393.80" y2="189.90" stroke="#737d98" stroke-width="0.7"/>
<path d="M389.95,189.90H392.85M391.40,188.45V191.35M390.38,188.89L392.41,190.91M390.38,190.91L392.41,188.89" stroke="#737d98" stroke-width="0.6"/>
<text x="396.80" y="191.75" font-size="5.3" fill="#231f20" textLength="107.00" lengthAdjust="spacingAndGlyphs">sgNT-1 GFP vs sgNC-8 RFP 10 μM CC-90009</text>
<line x1="389.00" y1="196.60" x2="393.80" y2="196.60" stroke="#3b0b5c" stroke-width="0.7"/>
<path d="M389.95,196.60L391.40,195.15L392.85,196.60L391.40,198.05Z" fill="#3b0b5c"/>
<text x="396.80" y="198.45" font-size="5.3" fill="#231f20" textLength="91.60" lengthAdjust="spacingAndGlyphs">sgNT-1 GFP vs sgDD1T4-1 RFP DMSO</text>
<line x1="389.00" y1="203.30" x2="393.80" y2="203.30" stroke="#5e2d7e" stroke-width="0.7"/>
<rect x="390.24" y="202.14" width="2.32" height="2.32" fill="#fff" stroke="#5e2d7e" stroke-width="0.8"/>
<text x="396.80" y="205.15" font-size="5.3" fill="#231f20" textLength="112.80" lengthAdjust="spacingAndGlyphs">sgNT-1 GFP vs sgDDIT4-1 RFP10 μM CC-90009</text>
<line x1="389.00" y1="210.00" x2="393.80" y2="210.00" stroke="#8a7fd4" stroke-width="0.7"/>
<path d="M389.95,210.00H392.85M391.40,208.55V211.45" stroke="#8a7fd4" stroke-width="0.7"/>
<text x="396.80" y="211.85" font-size="5.3" fill="#231f20" textLength="91.60" lengthAdjust="spacingAndGlyphs">sgNT-1 GFP vs sgDDIT 4-3 RFP DMSO</text>
<line x1="389.00" y1="216.70" x2="393.80" y2="216.70" stroke="#a396e0" stroke-width="0.7"/>
<path d="M389.95,216.70L391.40,215.25L392.85,216.70L391.40,218.15Z" fill="#fff" stroke="#a396e0" stroke-width="0.8"/>
<text x="396.80" y="218.55" font-size="5.3" fill="#231f20" textLength="115.80" lengthAdjust="spacingAndGlyphs">sgNT-1 GFP vs sgDD1T4-3 RFP 10 μM CC-90009</text>
<line x1="389.00" y1="223.40" x2="393.80" y2="223.40" stroke="#e2238c" stroke-width="0.7"/>
<path d="M389.95,223.40L391.40,221.95L392.85,223.40L391.40,224.85Z" fill="#e2238c"/>
<text x="396.80" y="225.25" font-size="5.3" fill="#231f20" textLength="89.80" lengthAdjust="spacingAndGlyphs">sgNT-1 GFP vs sgDDIT4-6 RFP DMSO</text>
<line x1="389.00" y1="230.10" x2="393.80" y2="230.10" stroke="#e2238c" stroke-width="0.7"/>
<path d="M389.95,228.94L391.40,231.55L392.85,228.94Z" fill="#e2238c"/>
<text x="396.80" y="231.95" font-size="5.3" fill="#231f20" textLength="114.40" lengthAdjust="spacingAndGlyphs">sgNT-1 GFP vs sgDDIT4-6 RFP 10 μM CC-90009</text>
<text x="7.20" y="291.60" font-size="11.5" fill="#000" font-weight="bold">E</text>
<text x="85.20" y="291.20" font-size="4.5" fill="#231f20" text-anchor="middle" textLength="26.50" lengthAdjust="spacingAndGlyphs" class="lt">U937 parental</text>
<text x="124.80" y="291.20" font-size="4.5" fill="#231f20" text-anchor="middle" textLength="23.20" lengthAdjust="spacingAndGlyphs" class="lt">U937 GCN2-/-</text>
<line x1="63.90" y1="294.40" x2="105.10" y2="294.40" stroke="#555" stroke-width="1.2"/>
<line x1="106.80" y1="294.40" x2="148.10" y2="294.40" stroke="#555" stroke-width="1.2"/>
<text x="29.80" y="299.50" font-size="4.5" fill="#231f20" textLength="12.60" lengthAdjust="spacingAndGlyphs" class="lt">DMSO</text>
<text x="29.80" y="307.40" font-size="4.5" fill="#231f20" textLength="29.00" lengthAdjust="spacingAndGlyphs" class="lt">CC-90009 (μM)</text>
<text x="67.60" y="299.60" font-size="4.5" fill="#231f20" text-anchor="middle" class="lt">+</text>
<text x="78.00" y="299.60" font-size="4.5" fill="#231f20" text-anchor="middle" class="lt">-</text>
<text x="88.50" y="299.60" font-size="4.5" fill="#231f20" text-anchor="middle" class="lt">-</text>
<text x="98.90" y="299.60" font-size="4.5" fill="#231f20" text-anchor="middle" class="lt">-</text>
<text x="110.60" y="299.60" font-size="4.5" fill="#231f20" text-anchor="middle" class="lt">+</text>
<text x="121.00" y="299.60" font-size="4.5" fill="#231f20" text-anchor="middle" class="lt">-</text>
<text x="131.30" y="299.60" font-size="4.5" fill="#231f20" text-anchor="middle" class="lt">-</text>
<text x="141.60" y="299.60" font-size="4.5" fill="#231f20" text-anchor="middle" class="lt">-</text>
<text x="67.60" y="307.40" font-size="4.5" fill="#231f20" text-anchor="middle" class="lt">-</text>
<text x="78.00" y="307.40" font-size="4.5" fill="#231f20" text-anchor="middle" class="lt">0.1</text>
<text x="88.50" y="307.40" font-size="4.5" fill="#231f20" text-anchor="middle" class="lt">1</text>
<text x="98.90" y="307.40" font-size="4.5" fill="#231f20" text-anchor="middle" class="lt">10</text>
<text x="110.60" y="307.40" font-size="4.5" fill="#231f20" text-anchor="middle" class="lt">-</text>
<text x="121.00" y="307.40" font-size="4.5" fill="#231f20" text-anchor="middle" class="lt">0.1</text>
<text x="131.30" y="307.40" font-size="4.5" fill="#231f20" text-anchor="middle" class="lt">1</text>
<text x="141.60" y="307.40" font-size="4.5" fill="#231f20" text-anchor="middle" class="lt">10</text>
<text x="148.10" y="307.00" font-size="4.5" fill="#231f20" textLength="14.60" lengthAdjust="spacingAndGlyphs" class="lt">(24 hrs)</text>
<text x="149.10" y="317.20" font-size="4.5" fill="#231f20" textLength="12.90" lengthAdjust="spacingAndGlyphs" class="lt">GSPT1</text>
<text x="149.10" y="330.50" font-size="4.5" fill="#231f20" textLength="12.10" lengthAdjust="spacingAndGlyphs" class="lt">GCN2</text>
<text x="149.10" y="346.10" font-size="4.5" fill="#231f20" textLength="15.90" lengthAdjust="spacingAndGlyphs" class="lt">p-eIF2α</text>
<text x="149.10" y="359.80" font-size="4.5" fill="#231f20" textLength="11.30" lengthAdjust="spacingAndGlyphs" class="lt">eIF2α</text>
<text x="149.10" y="374.90" font-size="4.5" fill="#231f20" textLength="10.60" lengthAdjust="spacingAndGlyphs" class="lt">ATF4</text>
<text x="149.10" y="390.50" font-size="4.5" fill="#231f20" textLength="13.00" lengthAdjust="spacingAndGlyphs" class="lt">DDIT4</text>
<text x="149.10" y="433.30" font-size="4.5" fill="#231f20" textLength="11.30" lengthAdjust="spacingAndGlyphs" class="lt">CRBN</text>
<text x="149.10" y="449.90" font-size="4.5" fill="#231f20" textLength="10.60" lengthAdjust="spacingAndGlyphs" class="lt">Actin</text>
<text x="149.10" y="407.00" font-size="4.5" fill="#231f20" textLength="16.10" lengthAdjust="spacingAndGlyphs" class="lt">Cleaved</text>
<text x="149.10" y="414.00" font-size="4.5" fill="#231f20" textLength="18.50" lengthAdjust="spacingAndGlyphs" class="lt">caspase 3</text>
<rect x="62.10" y="310.10" width="84.00" height="10.70" fill="#8f8f8f"/>
<g><rect x="63.40" y="313.90" width="8.40" height="4.20" rx="2.10" fill="#000" opacity="0.45"/><rect x="64.10" y="314.60" width="7.00" height="2.80" rx="1.40" fill="#000"/><rect x="74.00" y="314.10" width="8.00" height="3.80" rx="1.90" fill="#858585" opacity="0.45"/><rect x="74.70" y="314.80" width="6.60" height="2.40" rx="1.20" fill="#858585"/><rect x="84.50" y="314.10" width="8.00" height="3.80" rx="1.90" fill="#858585" opacity="0.45"/><rect x="85.20" y="314.80" width="6.60" height="2.40" rx="1.20" fill="#858585"/><rect x="94.90" y="314.10" width="8.00" height="3.80" rx="1.90" fill="#858585" opacity="0.45"/><rect x="95.60" y="314.80" width="6.60" height="2.40" rx="1.20" fill="#858585"/><rect x="106.40" y="313.90" width="8.40" height="4.20" rx="2.10" fill="#000" opacity="0.45"/><rect x="107.10" y="314.60" width="7.00" height="2.80" rx="1.40" fill="#000"/><rect x="117.00" y="314.10" width="8.00" height="3.80" rx="1.90" fill="#858585" opacity="0.45"/><rect x="117.70" y="314.80" width="6.60" height="2.40" rx="1.20" fill="#858585"/><rect x="127.30" y="314.10" width="8.00" height="3.80" rx="1.90" fill="#858585" opacity="0.45"/><rect x="128.00" y="314.80" width="6.60" height="2.40" rx="1.20" fill="#858585"/><rect x="137.60" y="314.10" width="8.00" height="3.80" rx="1.90" fill="#858585" opacity="0.45"/><rect x="138.30" y="314.80" width="6.60" height="2.40" rx="1.20" fill="#858585"/></g>
<rect x="62.10" y="323.10" width="84.00" height="11.70" fill="#a9a9a9"/>
<g><rect x="63.70" y="327.55" width="7.80" height="2.30" rx="1.15" fill="#5a5a5a" opacity="0.45"/><rect x="64.40" y="328.25" width="6.40" height="0.90" rx="0.45" fill="#5a5a5a"/><rect x="74.10" y="327.55" width="7.80" height="2.30" rx="1.15" fill="#5a5a5a" opacity="0.45"/><rect x="74.80" y="328.25" width="6.40" height="0.90" rx="0.45" fill="#5a5a5a"/><rect x="84.60" y="327.55" width="7.80" height="2.30" rx="1.15" fill="#5a5a5a" opacity="0.45"/><rect x="85.30" y="328.25" width="6.40" height="0.90" rx="0.45" fill="#5a5a5a"/><rect x="95.00" y="327.55" width="7.80" height="2.30" rx="1.15" fill="#5a5a5a" opacity="0.45"/><rect x="95.70" y="328.25" width="6.40" height="0.90" rx="0.45" fill="#5a5a5a"/></g>
<rect x="62.10" y="337.20" width="84.00" height="11.90" fill="#b3b3b3"/>
<g><rect x="63.60" y="342.30" width="8.00" height="3.40" rx="1.70" fill="#4a4a4a" opacity="0.45"/><rect x="64.30" y="343.00" width="6.60" height="2.00" rx="1.00" fill="#4a4a4a"/><rect x="73.70" y="341.80" width="8.60" height="4.20" rx="2.10" fill="#000" opacity="0.45"/><rect x="74.40" y="342.50" width="7.20" height="2.80" rx="1.40" fill="#000"/><rect x="84.20" y="341.80" width="8.60" height="4.20" rx="2.10" fill="#000" opacity="0.45"/><rect x="84.90" y="342.50" width="7.20" height="2.80" rx="1.40" fill="#000"/><rect x="94.60" y="341.80" width="8.60" height="4.20" rx="2.10" fill="#000" opacity="0.45"/><rect x="95.30" y="342.50" width="7.20" height="2.80" rx="1.40" fill="#000"/><rect x="106.60" y="342.30" width="8.00" height="3.40" rx="1.70" fill="#555" opacity="0.45"/><rect x="107.30" y="343.00" width="6.60" height="2.00" rx="1.00" fill="#555"/><rect x="117.00" y="342.30" width="8.00" height="3.40" rx="1.70" fill="#555" opacity="0.45"/><rect x="117.70" y="343.00" width="6.60" height="2.00" rx="1.00" fill="#555"/><rect x="127.30" y="342.30" width="8.00" height="3.40" rx="1.70" fill="#555" opacity="0.45"/><rect x="128.00" y="343.00" width="6.60" height="2.00" rx="1.00" fill="#555"/><rect x="137.60" y="342.30" width="8.00" height="3.40" rx="1.70" fill="#555" opacity="0.45"/><rect x="138.30" y="343.00" width="6.60" height="2.00" rx="1.00" fill="#555"/></g>
<rect x="62.10" y="352.10" width="84.00" height="12.00" fill="#bdbdbd"/>
<g><rect x="63.20" y="355.60" width="8.80" height="4.20" rx="2.10" fill="#000" opacity="0.45"/><rect x="63.90" y="356.30" width="7.40" height="2.80" rx="1.40" fill="#000"/><rect x="73.60" y="355.60" width="8.80" height="4.20" rx="2.10" fill="#000" opacity="0.45"/><rect x="74.30" y="356.30" width="7.40" height="2.80" rx="1.40" fill="#000"/><rect x="84.10" y="355.60" width="8.80" height="4.20" rx="2.10" fill="#000" opacity="0.45"/><rect x="84.80" y="356.30" width="7.40" height="2.80" rx="1.40" fill="#000"/><rect x="94.50" y="355.60" width="8.80" height="4.20" rx="2.10" fill="#000" opacity="0.45"/><rect x="95.20" y="356.30" width="7.40" height="2.80" rx="1.40" fill="#000"/><rect x="106.20" y="355.60" width="8.80" height="4.20" rx="2.10" fill="#000" opacity="0.45"/><rect x="106.90" y="356.30" width="7.40" height="2.80" rx="1.40" fill="#000"/><rect x="116.60" y="355.60" width="8.80" height="4.20" rx="2.10" fill="#000" opacity="0.45"/><rect x="117.30" y="356.30" width="7.40" height="2.80" rx="1.40" fill="#000"/><rect x="126.90" y="355.60" width="8.80" height="4.20" rx="2.10" fill="#000" opacity="0.45"/><rect x="127.60" y="356.30" width="7.40" height="2.80" rx="1.40" fill="#000"/><rect x="137.20" y="355.60" width="8.80" height="4.20" rx="2.10" fill="#000" opacity="0.45"/><rect x="137.90" y="356.30" width="7.40" height="2.80" rx="1.40" fill="#000"/></g>
<rect x="62.10" y="366.90" width="84.00" height="13.20" fill="#8a8a8a"/>
<g filter="url(#f1)"><rect x="64.40" y="373.30" width="6.40" height="3.00" rx="1.50" fill="#505050"/><rect x="74.30" y="372.20" width="7.40" height="4.40" rx="1.50" fill="#141414"/><rect x="84.80" y="372.20" width="7.40" height="4.40" rx="1.50" fill="#141414"/><rect x="95.20" y="372.20" width="7.40" height="4.40" rx="1.50" fill="#141414"/><rect x="107.60" y="373.50" width="6.00" height="2.60" rx="1.30" fill="#6a6a6a"/></g>
<rect x="62.10" y="383.50" width="84.00" height="14.10" fill="#5a5a5a"/>
<g filter="url(#f2)"><rect x="63.30" y="381.0" width="8.6" height="19.0" fill="#383838"/><rect x="73.70" y="381.0" width="8.6" height="19.0" fill="#383838"/><rect x="84.20" y="381.0" width="8.6" height="19.0" fill="#383838"/><rect x="94.60" y="381.0" width="8.6" height="19.0" fill="#383838"/><rect x="106.30" y="381.0" width="8.6" height="19.0" fill="#474747"/><rect x="116.70" y="381.0" width="8.6" height="19.0" fill="#474747"/><rect x="127.00" y="381.0" width="8.6" height="19.0" fill="#474747"/><rect x="137.30" y="381.0" width="8.6" height="19.0" fill="#474747"/><rect x="63.90" y="384.80" width="7.40" height="1.60" rx="0.80" fill="#1c1c1c"/><rect x="63.80" y="389.20" width="7.60" height="2.40" rx="1.20" fill="#000"/><rect x="63.90" y="393.90" width="7.40" height="1.80" rx="0.90" fill="#202020"/><rect x="74.30" y="384.80" width="7.40" height="1.60" rx="0.80" fill="#1c1c1c"/><rect x="74.20" y="389.20" width="7.60" height="2.40" rx="1.20" fill="#000"/><rect x="74.30" y="393.90" width="7.40" height="1.80" rx="0.90" fill="#202020"/><rect x="84.80" y="384.80" width="7.40" height="1.60" rx="0.80" fill="#1c1c1c"/><rect x="84.70" y="389.20" width="7.60" height="2.40" rx="1.20" fill="#000"/><rect x="84.80" y="393.90" width="7.40" height="1.80" rx="0.90" fill="#202020"/><rect x="95.20" y="384.80" width="7.40" height="1.60" rx="0.80" fill="#1c1c1c"/><rect x="95.10" y="389.20" width="7.60" height="2.40" rx="1.20" fill="#000"/><rect x="95.20" y="393.90" width="7.40" height="1.80" rx="0.90" fill="#202020"/><rect x="106.90" y="384.80" width="7.40" height="1.60" rx="0.80" fill="#2e2e2e"/><rect x="106.80" y="389.20" width="7.60" height="2.40" rx="1.20" fill="#1a1a1a"/><rect x="106.90" y="393.90" width="7.40" height="1.80" rx="0.90" fill="#303030"/><rect x="117.30" y="384.80" width="7.40" height="1.60" rx="0.80" fill="#2e2e2e"/><rect x="117.20" y="389.20" width="7.60" height="2.40" rx="1.20" fill="#1a1a1a"/><rect x="117.30" y="393.90" width="7.40" height="1.80" rx="0.90" fill="#303030"/><rect x="127.60" y="384.80" width="7.40" height="1.60" rx="0.80" fill="#2e2e2e"/><rect x="127.50" y="389.20" width="7.60" height="2.40" rx="1.20" fill="#1a1a1a"/><rect x="127.60" y="393.90" width="7.40" height="1.80" rx="0.90" fill="#303030"/><rect x="137.90" y="384.80" width="7.40" height="1.60" rx="0.80" fill="#2e2e2e"/><rect x="137.80" y="389.20" width="7.60" height="2.40" rx="1.20" fill="#1a1a1a"/><rect x="137.90" y="393.90" width="7.40" height="1.80" rx="0.90" fill="#303030"/></g>
<rect x="62.10" y="401.50" width="84.00" height="17.10" fill="#9a9a9a"/>
<g><rect x="63.60" y="404.60" width="8.00" height="2.80" rx="1.40" fill="#8a8a8a" opacity="0.45"/><rect x="64.30" y="405.30" width="6.60" height="1.40" rx="0.70" fill="#8a8a8a"/><rect x="63.60" y="412.60" width="8.00" height="3.20" rx="1.60" fill="#808080" opacity="0.45"/><rect x="64.30" y="413.30" width="6.60" height="1.80" rx="0.90" fill="#808080"/><rect x="73.80" y="404.20" width="8.40" height="3.20" rx="1.60" fill="#2a2a2a" opacity="0.45"/><rect x="74.50" y="404.90" width="7.00" height="1.80" rx="0.90" fill="#2a2a2a"/><rect x="73.50" y="412.10" width="9.00" height="4.40" rx="2.20" fill="#000" opacity="0.45"/><rect x="74.20" y="412.80" width="7.60" height="3.00" rx="1.50" fill="#000"/><rect x="84.30" y="404.20" width="8.40" height="3.20" rx="1.60" fill="#2a2a2a" opacity="0.45"/><rect x="85.00" y="404.90" width="7.00" height="1.80" rx="0.90" fill="#2a2a2a"/><rect x="84.00" y="412.10" width="9.00" height="4.40" rx="2.20" fill="#000" opacity="0.45"/><rect x="84.70" y="412.80" width="7.60" height="3.00" rx="1.50" fill="#000"/><rect x="94.70" y="404.20" width="8.40" height="3.20" rx="1.60" fill="#2a2a2a" opacity="0.45"/><rect x="95.40" y="404.90" width="7.00" height="1.80" rx="0.90" fill="#2a2a2a"/><rect x="94.40" y="412.10" width="9.00" height="4.40" rx="2.20" fill="#000" opacity="0.45"/><rect x="95.10" y="412.80" width="7.60" height="3.00" rx="1.50" fill="#000"/><rect x="106.50" y="404.95" width="8.20" height="2.70" rx="1.35" fill="#7c7c7c" opacity="0.45"/><rect x="107.20" y="405.65" width="6.80" height="1.30" rx="0.65" fill="#7c7c7c"/><rect x="116.90" y="404.95" width="8.20" height="2.70" rx="1.35" fill="#7c7c7c" opacity="0.45"/><rect x="117.60" y="405.65" width="6.80" height="1.30" rx="0.65" fill="#7c7c7c"/><rect x="127.20" y="404.95" width="8.20" height="2.70" rx="1.35" fill="#7c7c7c" opacity="0.45"/><rect x="127.90" y="405.65" width="6.80" height="1.30" rx="0.65" fill="#7c7c7c"/><rect x="137.50" y="404.95" width="8.20" height="2.70" rx="1.35" fill="#7c7c7c" opacity="0.45"/><rect x="138.20" y="405.65" width="6.80" height="1.30" rx="0.65" fill="#7c7c7c"/></g>
<rect x="62.10" y="421.60" width="84.00" height="18.50" fill="#7c7c7c"/>
<g filter="url(#f3)"><rect x="64.10" y="432.50" width="7.00" height="3.00" rx="1.50" fill="#555"/><rect x="63.80" y="428.60" width="7.60" height="3.40" rx="1.50" fill="#1e1e1e"/><rect x="74.50" y="432.50" width="7.00" height="3.00" rx="1.50" fill="#555"/><rect x="74.20" y="428.60" width="7.60" height="3.40" rx="1.50" fill="#1e1e1e"/><rect x="85.00" y="432.50" width="7.00" height="3.00" rx="1.50" fill="#555"/><rect x="84.70" y="428.60" width="7.60" height="3.40" rx="1.50" fill="#1e1e1e"/><rect x="95.40" y="432.50" width="7.00" height="3.00" rx="1.50" fill="#555"/><rect x="95.10" y="428.60" width="7.60" height="3.40" rx="1.50" fill="#1e1e1e"/><rect x="107.10" y="432.50" width="7.00" height="3.00" rx="1.50" fill="#555"/><rect x="106.80" y="428.60" width="7.60" height="3.40" rx="1.50" fill="#1e1e1e"/><rect x="117.50" y="432.50" width="7.00" height="3.00" rx="1.50" fill="#555"/><rect x="117.20" y="428.60" width="7.60" height="3.40" rx="1.50" fill="#1e1e1e"/><rect x="127.80" y="432.50" width="7.00" height="3.00" rx="1.50" fill="#555"/><rect x="127.50" y="428.60" width="7.60" height="3.40" rx="1.50" fill="#1e1e1e"/><rect x="138.10" y="432.50" width="7.00" height="3.00" rx="1.50" fill="#555"/><rect x="137.80" y="428.60" width="7.60" height="3.40" rx="1.50" fill="#1e1e1e"/></g>
<rect x="62.10" y="442.30" width="84.00" height="13.90" fill="#c4c4c4"/>
<g><rect x="63.10" y="447.10" width="9.00" height="4.40" rx="2.20" fill="#000" opacity="0.45"/><rect x="63.80" y="447.80" width="7.60" height="3.00" rx="1.50" fill="#000"/><rect x="73.50" y="447.10" width="9.00" height="4.40" rx="2.20" fill="#000" opacity="0.45"/><rect x="74.20" y="447.80" width="7.60" height="3.00" rx="1.50" fill="#000"/><rect x="84.00" y="447.10" width="9.00" height="4.40" rx="2.20" fill="#000" opacity="0.45"/><rect x="84.70" y="447.80" width="7.60" height="3.00" rx="1.50" fill="#000"/><rect x="94.40" y="447.10" width="9.00" height="4.40" rx="2.20" fill="#000" opacity="0.45"/><rect x="95.10" y="447.80" width="7.60" height="3.00" rx="1.50" fill="#000"/><rect x="106.40" y="447.40" width="8.40" height="3.80" rx="1.90" fill="#000" opacity="0.45"/><rect x="107.10" y="448.10" width="7.00" height="2.40" rx="1.20" fill="#000"/><rect x="116.80" y="447.40" width="8.40" height="3.80" rx="1.90" fill="#000" opacity="0.45"/><rect x="117.50" y="448.10" width="7.00" height="2.40" rx="1.20" fill="#000"/><rect x="127.10" y="447.40" width="8.40" height="3.80" rx="1.90" fill="#000" opacity="0.45"/><rect x="127.80" y="448.10" width="7.00" height="2.40" rx="1.20" fill="#000"/><rect x="137.40" y="447.40" width="8.40" height="3.80" rx="1.90" fill="#000" opacity="0.45"/><rect x="138.10" y="448.10" width="7.00" height="2.40" rx="1.20" fill="#000"/></g>
<text x="265.80" y="290.60" font-size="11.5" fill="#000" font-weight="bold">F</text>
<line x1="311.80" y1="310.80" x2="311.80" y2="423.80" stroke="#231f20" stroke-width="1.1"/>
<line x1="311.30" y1="423.30" x2="454.60" y2="423.30" stroke="#231f20" stroke-width="1.1"/>
<line x1="309.00" y1="423.30" x2="311.80" y2="423.30" stroke="#231f20" stroke-width="0.9"/>
<text x="307.80" y="425.50" font-size="6.2" fill="#231f20" text-anchor="end" textLength="9.60" lengthAdjust="spacingAndGlyphs" class="gp">0.0</text>
<line x1="309.00" y1="407.60" x2="311.80" y2="407.60" stroke="#231f20" stroke-width="0.9"/>
<text x="307.80" y="409.80" font-size="6.2" fill="#231f20" text-anchor="end" textLength="9.60" lengthAdjust="spacingAndGlyphs" class="gp">5.0</text>
<line x1="309.00" y1="391.90" x2="311.80" y2="391.90" stroke="#231f20" stroke-width="0.9"/>
<text x="307.80" y="394.10" font-size="6.2" fill="#231f20" text-anchor="end" textLength="13.00" lengthAdjust="spacingAndGlyphs" class="gp">10.0</text>
<line x1="309.00" y1="376.20" x2="311.80" y2="376.20" stroke="#231f20" stroke-width="0.9"/>
<text x="307.80" y="378.40" font-size="6.2" fill="#231f20" text-anchor="end" textLength="13.00" lengthAdjust="spacingAndGlyphs" class="gp">15.0</text>
<line x1="309.00" y1="360.50" x2="311.80" y2="360.50" stroke="#231f20" stroke-width="0.9"/>
<text x="307.80" y="362.70" font-size="6.2" fill="#231f20" text-anchor="end" textLength="13.00" lengthAdjust="spacingAndGlyphs" class="gp">20.0</text>
<line x1="309.00" y1="344.80" x2="311.80" y2="344.80" stroke="#231f20" stroke-width="0.9"/>
<text x="307.80" y="347.00" font-size="6.2" fill="#231f20" text-anchor="end" textLength="13.00" lengthAdjust="spacingAndGlyphs" class="gp">25.0</text>
<line x1="309.00" y1="329.10" x2="311.80" y2="329.10" stroke="#231f20" stroke-width="0.9"/>
<text x="307.80" y="331.30" font-size="6.2" fill="#231f20" text-anchor="end" textLength="13.00" lengthAdjust="spacingAndGlyphs" class="gp">30.0</text>
<line x1="309.00" y1="313.40" x2="311.80" y2="313.40" stroke="#231f20" stroke-width="0.9"/>
<text x="307.80" y="315.60" font-size="6.2" fill="#231f20" text-anchor="end" textLength="13.00" lengthAdjust="spacingAndGlyphs" class="gp">35.0</text>
<text x="289.2" y="424.6" font-size="7.6" fill="#231f20" textLength="113.4" lengthAdjust="spacingAndGlyphs" transform="rotate(-90 289.0 425.1)">Fold of induction (CC-90009 vs DMSO)</text>
<rect x="321.40" y="316.00" width="2.40" height="2.40" fill="#ecd9bf"/>
<text x="326.70" y="319.10" font-size="5.3" fill="#231f20" textLength="52.90" lengthAdjust="spacingAndGlyphs">U937 parental_DMSO</text>
<rect x="321.40" y="322.45" width="2.40" height="2.40" fill="#d2a468"/>
<text x="326.70" y="325.55" font-size="5.3" fill="#231f20" textLength="79.30" lengthAdjust="spacingAndGlyphs">U937 parental_0.1 μM CC-90009</text>
<rect x="321.40" y="328.90" width="2.40" height="2.40" fill="#b9782f"/>
<text x="326.70" y="332.00" font-size="5.3" fill="#231f20" textLength="74.50" lengthAdjust="spacingAndGlyphs">U937 parental_1 μM CC-90009</text>
<rect x="321.40" y="335.35" width="2.40" height="2.40" fill="#9b4d0c"/>
<text x="326.70" y="338.45" font-size="5.3" fill="#231f20" textLength="77.30" lengthAdjust="spacingAndGlyphs">U937 parental_10 μM CC-90009</text>
<rect x="321.40" y="341.80" width="2.40" height="2.40" fill="#cdd6cc"/>
<text x="326.70" y="344.90" font-size="5.3" fill="#231f20" textLength="55.40" lengthAdjust="spacingAndGlyphs">U937 GCN2-/- _DMSO</text>
<rect x="321.40" y="348.25" width="2.40" height="2.40" fill="#8daa92"/>
<text x="326.70" y="351.35" font-size="5.3" fill="#231f20" textLength="79.50" lengthAdjust="spacingAndGlyphs">U937 GCN2-/-_0.1 μM CC-90009</text>
<rect x="321.40" y="354.70" width="2.40" height="2.40" fill="#4d7a5a"/>
<text x="326.70" y="357.80" font-size="5.3" fill="#231f20" textLength="75.00" lengthAdjust="spacingAndGlyphs">U937 GCN2-/-_1 μM CC-90009</text>
<rect x="321.40" y="361.15" width="2.40" height="2.40" fill="#173f2a"/>
<text x="326.70" y="364.25" font-size="5.3" fill="#231f20" textLength="78.30" lengthAdjust="spacingAndGlyphs">U937 GCN2-/-_10 μM CC-90009</text>
<rect x="316.70" y="420.47" width="3.40" height="2.83" fill="#ecd9bf"/>
<line x1="318.40" y1="420.16" x2="318.40" y2="420.79" stroke="#222" stroke-width="0.6"/>
<line x1="317.60" y1="420.16" x2="319.20" y2="420.16" stroke="#222" stroke-width="0.6"/>
<rect x="321.63" y="414.82" width="3.40" height="8.48" fill="#d2a468"/>
<line x1="323.33" y1="414.04" x2="323.33" y2="415.61" stroke="#222" stroke-width="0.6"/>
<line x1="322.53" y1="414.04" x2="324.13" y2="414.04" stroke="#222" stroke-width="0.6"/>
<rect x="326.56" y="416.55" width="3.40" height="6.75" fill="#b9782f"/>
<line x1="328.26" y1="415.92" x2="328.26" y2="417.18" stroke="#222" stroke-width="0.6"/>
<line x1="327.46" y1="415.92" x2="329.06" y2="415.92" stroke="#222" stroke-width="0.6"/>
<rect x="331.49" y="415.14" width="3.40" height="8.16" fill="#9b4d0c"/>
<line x1="333.19" y1="414.35" x2="333.19" y2="415.92" stroke="#222" stroke-width="0.6"/>
<line x1="332.39" y1="414.35" x2="333.99" y2="414.35" stroke="#222" stroke-width="0.6"/>
<rect x="336.42" y="420.47" width="3.40" height="2.83" fill="#cdd6cc"/>
<line x1="338.12" y1="420.16" x2="338.12" y2="420.79" stroke="#222" stroke-width="0.6"/>
<line x1="337.32" y1="420.16" x2="338.92" y2="420.16" stroke="#222" stroke-width="0.6"/>
<rect x="341.35" y="420.47" width="3.40" height="2.83" fill="#8daa92"/>
<line x1="343.05" y1="420.00" x2="343.05" y2="420.94" stroke="#222" stroke-width="0.6"/>
<line x1="342.25" y1="420.00" x2="343.85" y2="420.00" stroke="#222" stroke-width="0.6"/>
<rect x="346.28" y="421.42" width="3.40" height="1.88" fill="#4d7a5a"/>
<line x1="347.98" y1="420.94" x2="347.98" y2="421.89" stroke="#222" stroke-width="0.6"/>
<line x1="347.18" y1="420.94" x2="348.78" y2="420.94" stroke="#222" stroke-width="0.6"/>
<rect x="351.21" y="421.26" width="3.40" height="2.04" fill="#173f2a"/>
<line x1="352.91" y1="420.79" x2="352.91" y2="421.73" stroke="#222" stroke-width="0.6"/>
<line x1="352.11" y1="420.79" x2="353.71" y2="420.79" stroke="#222" stroke-width="0.6"/>
<text x="335.40" y="431.90" font-size="6.3" fill="#231f20" text-anchor="middle" textLength="17.80" lengthAdjust="spacingAndGlyphs">DDIT4</text>
<rect x="364.30" y="420.47" width="3.40" height="2.83" fill="#ecd9bf"/>
<line x1="366.00" y1="420.16" x2="366.00" y2="420.79" stroke="#222" stroke-width="0.6"/>
<line x1="365.20" y1="420.16" x2="366.80" y2="420.16" stroke="#222" stroke-width="0.6"/>
<rect x="369.23" y="383.11" width="3.40" height="40.19" fill="#d2a468"/>
<line x1="370.93" y1="379.97" x2="370.93" y2="386.25" stroke="#222" stroke-width="0.6"/>
<line x1="370.13" y1="379.97" x2="371.73" y2="379.97" stroke="#222" stroke-width="0.6"/>
<rect x="374.16" y="374.94" width="3.40" height="48.36" fill="#b9782f"/>
<line x1="375.86" y1="372.75" x2="375.86" y2="377.14" stroke="#222" stroke-width="0.6"/>
<line x1="375.06" y1="372.75" x2="376.66" y2="372.75" stroke="#222" stroke-width="0.6"/>
<rect x="379.09" y="385.62" width="3.40" height="37.68" fill="#9b4d0c"/>
<line x1="380.79" y1="384.36" x2="380.79" y2="386.88" stroke="#222" stroke-width="0.6"/>
<line x1="379.99" y1="384.36" x2="381.59" y2="384.36" stroke="#222" stroke-width="0.6"/>
<rect x="384.02" y="420.47" width="3.40" height="2.83" fill="#cdd6cc"/>
<line x1="385.72" y1="420.16" x2="385.72" y2="420.79" stroke="#222" stroke-width="0.6"/>
<line x1="384.92" y1="420.16" x2="386.52" y2="420.16" stroke="#222" stroke-width="0.6"/>
<rect x="388.95" y="415.92" width="3.40" height="7.38" fill="#8daa92"/>
<line x1="390.65" y1="415.29" x2="390.65" y2="416.55" stroke="#222" stroke-width="0.6"/>
<line x1="389.85" y1="415.29" x2="391.45" y2="415.29" stroke="#222" stroke-width="0.6"/>
<rect x="393.88" y="417.96" width="3.40" height="5.34" fill="#4d7a5a"/>
<line x1="395.58" y1="417.33" x2="395.58" y2="418.59" stroke="#222" stroke-width="0.6"/>
<line x1="394.78" y1="417.33" x2="396.38" y2="417.33" stroke="#222" stroke-width="0.6"/>
<rect x="398.81" y="415.61" width="3.40" height="7.69" fill="#173f2a"/>
<line x1="400.51" y1="415.14" x2="400.51" y2="416.08" stroke="#222" stroke-width="0.6"/>
<line x1="399.71" y1="415.14" x2="401.31" y2="415.14" stroke="#222" stroke-width="0.6"/>
<text x="383.00" y="431.90" font-size="6.3" fill="#231f20" text-anchor="middle" textLength="18.40" lengthAdjust="spacingAndGlyphs">CHOP</text>
<rect x="411.90" y="420.47" width="3.40" height="2.83" fill="#ecd9bf"/>
<line x1="413.60" y1="420.16" x2="413.60" y2="420.79" stroke="#222" stroke-width="0.6"/>
<line x1="412.80" y1="420.16" x2="414.40" y2="420.16" stroke="#222" stroke-width="0.6"/>
<rect x="416.83" y="379.65" width="3.40" height="43.65" fill="#d2a468"/>
<line x1="418.53" y1="373.69" x2="418.53" y2="385.62" stroke="#222" stroke-width="0.6"/>
<line x1="417.73" y1="373.69" x2="419.33" y2="373.69" stroke="#222" stroke-width="0.6"/>
<rect x="421.76" y="363.33" width="3.40" height="59.97" fill="#b9782f"/>
<line x1="423.46" y1="355.48" x2="423.46" y2="371.18" stroke="#222" stroke-width="0.6"/>
<line x1="422.66" y1="355.48" x2="424.26" y2="355.48" stroke="#222" stroke-width="0.6"/>
<rect x="426.69" y="362.38" width="3.40" height="60.92" fill="#9b4d0c"/>
<line x1="428.39" y1="351.39" x2="428.39" y2="373.37" stroke="#222" stroke-width="0.6"/>
<line x1="427.59" y1="351.39" x2="429.19" y2="351.39" stroke="#222" stroke-width="0.6"/>
<rect x="431.62" y="420.47" width="3.40" height="2.83" fill="#cdd6cc"/>
<line x1="433.32" y1="420.16" x2="433.32" y2="420.79" stroke="#222" stroke-width="0.6"/>
<line x1="432.52" y1="420.16" x2="434.12" y2="420.16" stroke="#222" stroke-width="0.6"/>
<rect x="436.55" y="401.01" width="3.40" height="22.29" fill="#8daa92"/>
<line x1="438.25" y1="398.49" x2="438.25" y2="403.52" stroke="#222" stroke-width="0.6"/>
<line x1="437.45" y1="398.49" x2="439.05" y2="398.49" stroke="#222" stroke-width="0.6"/>
<rect x="441.48" y="401.63" width="3.40" height="21.67" fill="#4d7a5a"/>
<line x1="443.18" y1="399.44" x2="443.18" y2="403.83" stroke="#222" stroke-width="0.6"/>
<line x1="442.38" y1="399.44" x2="443.98" y2="399.44" stroke="#222" stroke-width="0.6"/>
<rect x="446.41" y="400.06" width="3.40" height="23.24" fill="#173f2a"/>
<line x1="448.11" y1="397.24" x2="448.11" y2="402.89" stroke="#222" stroke-width="0.6"/>
<line x1="447.31" y1="397.24" x2="448.91" y2="397.24" stroke="#222" stroke-width="0.6"/>
<text x="430.60" y="431.90" font-size="6.3" fill="#231f20" text-anchor="middle" textLength="14.80" lengthAdjust="spacingAndGlyphs">ATF3</text>
<text x="6.60" y="481.40" font-size="11.5" fill="#000" font-weight="bold">G</text>
<text x="59.80" y="481.30" font-size="4.5" fill="#231f20" text-anchor="middle" textLength="10.20" lengthAdjust="spacingAndGlyphs" class="lt">U937</text>
<text x="59.70" y="486.60" font-size="4.5" fill="#231f20" text-anchor="middle" textLength="15.60" lengthAdjust="spacingAndGlyphs" class="lt">Parental</text>
<line x1="51.90" y1="489.30" x2="67.70" y2="489.30" stroke="#333" stroke-width="1.1"/>
<line x1="71.00" y1="488.90" x2="159.40" y2="488.90" stroke="#333" stroke-width="1.1"/>
<text x="118.00" y="486.50" font-size="4.5" fill="#231f20" text-anchor="middle" textLength="28.00" lengthAdjust="spacingAndGlyphs" class="lt">U937 GCN2-/-</text>
<text x="93.80" y="494.90" font-size="4.5" fill="#231f20" text-anchor="middle" class="lt">HA-</text>
<text x="93.80" y="500.15" font-size="4.5" fill="#231f20" text-anchor="middle" class="lt">GCN2</text>
<text x="93.80" y="505.40" font-size="4.5" fill="#231f20" text-anchor="middle" class="lt">WT</text>
<line x1="87.10" y1="513.50" x2="100.60" y2="513.50" stroke="#333" stroke-width="1.1"/>
<text x="112.30" y="494.90" font-size="4.5" fill="#231f20" text-anchor="middle" class="lt">HA-</text>
<text x="112.30" y="500.15" font-size="4.5" fill="#231f20" text-anchor="middle" class="lt">GCN2</text>
<text x="112.30" y="505.40" font-size="4.5" fill="#231f20" text-anchor="middle" class="lt">T899A/</text>
<text x="112.30" y="510.65" font-size="4.5" fill="#231f20" text-anchor="middle" class="lt">T904A</text>
<line x1="105.00" y1="513.50" x2="119.50" y2="513.50" stroke="#333" stroke-width="1.1"/>
<text x="129.90" y="494.90" font-size="4.5" fill="#231f20" text-anchor="middle" class="lt">HA-</text>
<text x="129.90" y="500.15" font-size="4.5" fill="#231f20" text-anchor="middle" class="lt">GCN2</text>
<text x="129.90" y="505.40" font-size="4.5" fill="#231f20" text-anchor="middle" class="lt">K619R</text>
<line x1="123.50" y1="513.50" x2="136.80" y2="513.50" stroke="#333" stroke-width="1.1"/>
<text x="148.60" y="494.90" font-size="4.5" fill="#231f20" text-anchor="middle" class="lt">HA-GCN2</text>
<text x="148.60" y="500.15" font-size="4.5" fill="#231f20" text-anchor="middle" class="lt">F1143L/R</text>
<text x="148.60" y="505.40" font-size="4.5" fill="#231f20" text-anchor="middle" class="lt">1144L</text>
<line x1="141.80" y1="513.50" x2="155.50" y2="513.50" stroke="#333" stroke-width="1.1"/>
<text x="26.00" y="520.60" font-size="4.5" fill="#231f20" textLength="12.90" lengthAdjust="spacingAndGlyphs" class="lt">DMSO</text>
<text x="18.20" y="528.00" font-size="4.5" fill="#231f20" textLength="32.80" lengthAdjust="spacingAndGlyphs" class="lt">CC-90009 (4 μM)</text>
<text x="55.20" y="520.50" font-size="4.5" fill="#231f20" text-anchor="middle" class="lt">+</text>
<text x="55.20" y="528.00" font-size="4.5" fill="#231f20" text-anchor="middle" class="lt">-</text>
<text x="64.15" y="520.50" font-size="4.5" fill="#231f20" text-anchor="middle" class="lt">-</text>
<text x="64.15" y="528.00" font-size="4.5" fill="#231f20" text-anchor="middle" class="lt">+</text>
<text x="73.10" y="520.50" font-size="4.5" fill="#231f20" text-anchor="middle" class="lt">+</text>
<text x="73.10" y="528.00" font-size="4.5" fill="#231f20" text-anchor="middle" class="lt">-</text>
<text x="82.05" y="520.50" font-size="4.5" fill="#231f20" text-anchor="middle" class="lt">-</text>
<text x="82.05" y="528.00" font-size="4.5" fill="#231f20" text-anchor="middle" class="lt">+</text>
<text x="91.00" y="520.50" font-size="4.5" fill="#231f20" text-anchor="middle" class="lt">+</text>
<text x="91.00" y="528.00" font-size="4.5" fill="#231f20" text-anchor="middle" class="lt">-</text>
<text x="99.95" y="520.50" font-size="4.5" fill="#231f20" text-anchor="middle" class="lt">-</text>
<text x="99.95" y="528.00" font-size="4.5" fill="#231f20" text-anchor="middle" class="lt">+</text>
<text x="108.90" y="520.50" font-size="4.5" fill="#231f20" text-anchor="middle" class="lt">+</text>
<text x="108.90" y="528.00" font-size="4.5" fill="#231f20" text-anchor="middle" class="lt">-</text>
<text x="117.85" y="520.50" font-size="4.5" fill="#231f20" text-anchor="middle" class="lt">-</text>
<text x="117.85" y="528.00" font-size="4.5" fill="#231f20" text-anchor="middle" class="lt">+</text>
<text x="126.80" y="520.50" font-size="4.5" fill="#231f20" text-anchor="middle" class="lt">+</text>
<text x="126.80" y="528.00" font-size="4.5" fill="#231f20" text-anchor="middle" class="lt">-</text>
<text x="135.75" y="520.50" font-size="4.5" fill="#231f20" text-anchor="middle" class="lt">-</text>
<text x="135.75" y="528.00" font-size="4.5" fill="#231f20" text-anchor="middle" class="lt">+</text>
<text x="144.70" y="520.50" font-size="4.5" fill="#231f20" text-anchor="middle" class="lt">+</text>
<text x="144.70" y="528.00" font-size="4.5" fill="#231f20" text-anchor="middle" class="lt">-</text>
<text x="153.65" y="520.50" font-size="4.5" fill="#231f20" text-anchor="middle" class="lt">-</text>
<text x="153.65" y="528.00" font-size="4.5" fill="#231f20" text-anchor="middle" class="lt">+</text>
<text x="160.00" y="528.00" font-size="4.5" fill="#231f20" textLength="15.00" lengthAdjust="spacingAndGlyphs" class="lt">(24 hrs)</text>
<text x="161.60" y="537.60" font-size="4.5" fill="#231f20" textLength="11.90" lengthAdjust="spacingAndGlyphs" class="lt">GCN2</text>
<text x="161.60" y="551.20" font-size="4.5" fill="#231f20" textLength="6.30" lengthAdjust="spacingAndGlyphs" class="lt">HA</text>
<text x="161.60" y="565.10" font-size="4.5" fill="#231f20" textLength="12.60" lengthAdjust="spacingAndGlyphs" class="lt">GSPT1</text>
<text x="161.60" y="577.70" font-size="4.5" fill="#231f20" textLength="15.70" lengthAdjust="spacingAndGlyphs" class="lt">p-eIF2α</text>
<text x="161.60" y="592.20" font-size="4.5" fill="#231f20" textLength="11.10" lengthAdjust="spacingAndGlyphs" class="lt">eIF2α</text>
<text x="161.60" y="606.90" font-size="4.5" fill="#231f20" textLength="9.80" lengthAdjust="spacingAndGlyphs" class="lt">ATF4</text>
<text x="161.60" y="642.60" font-size="4.5" fill="#231f20" textLength="11.90" lengthAdjust="spacingAndGlyphs" class="lt">CRBN</text>
<text x="161.60" y="654.80" font-size="4.5" fill="#231f20" textLength="10.50" lengthAdjust="spacingAndGlyphs" class="lt">Actin</text>
<text x="161.60" y="622.20" font-size="4.5" fill="#231f20" textLength="16.10" lengthAdjust="spacingAndGlyphs" class="lt">Cleaved</text>
<text x="161.60" y="628.60" font-size="4.5" fill="#231f20" textLength="17.40" lengthAdjust="spacingAndGlyphs" class="lt">caspase3</text>
<rect x="50.10" y="530.80" width="108.20" height="10.40" fill="#c9c9c9"/>
<g><rect x="51.30" y="535.50" width="7.80" height="3.60" rx="1.80" fill="#000" opacity="0.45"/><rect x="52.00" y="536.20" width="6.40" height="2.20" rx="1.10" fill="#000"/><rect x="60.25" y="535.50" width="7.80" height="3.60" rx="1.80" fill="#000" opacity="0.45"/><rect x="60.95" y="536.20" width="6.40" height="2.20" rx="1.10" fill="#000"/><rect x="87.20" y="535.65" width="7.60" height="3.10" rx="1.55" fill="#4a4a4a" opacity="0.45"/><rect x="87.90" y="536.35" width="6.20" height="1.70" rx="0.85" fill="#4a4a4a"/><rect x="96.15" y="535.55" width="7.60" height="3.10" rx="1.55" fill="#4a4a4a" opacity="0.45"/><rect x="96.85" y="536.25" width="6.20" height="1.70" rx="0.85" fill="#4a4a4a"/><rect x="105.10" y="535.45" width="7.60" height="3.10" rx="1.55" fill="#4a4a4a" opacity="0.45"/><rect x="105.80" y="536.15" width="6.20" height="1.70" rx="0.85" fill="#4a4a4a"/><rect x="114.05" y="535.35" width="7.60" height="3.10" rx="1.55" fill="#4a4a4a" opacity="0.45"/><rect x="114.75" y="536.05" width="6.20" height="1.70" rx="0.85" fill="#4a4a4a"/><rect x="123.00" y="535.25" width="7.60" height="3.10" rx="1.55" fill="#4a4a4a" opacity="0.45"/><rect x="123.70" y="535.95" width="6.20" height="1.70" rx="0.85" fill="#4a4a4a"/><rect x="131.95" y="535.15" width="7.60" height="3.10" rx="1.55" fill="#4a4a4a" opacity="0.45"/><rect x="132.65" y="535.85" width="6.20" height="1.70" rx="0.85" fill="#4a4a4a"/><rect x="140.90" y="535.05" width="7.60" height="3.10" rx="1.55" fill="#4a4a4a" opacity="0.45"/><rect x="141.60" y="535.75" width="6.20" height="1.70" rx="0.85" fill="#4a4a4a"/><rect x="149.85" y="534.35" width="7.60" height="3.10" rx="1.55" fill="#4a4a4a" opacity="0.45"/><rect x="150.55" y="535.05" width="6.20" height="1.70" rx="0.85" fill="#4a4a4a"/></g>
<rect x="50.10" y="543.50" width="108.20" height="11.30" fill="#b5b5b5"/>
<g><rect x="87.30" y="548.55" width="7.40" height="2.50" rx="1.25" fill="#888" opacity="0.45"/><rect x="88.00" y="549.25" width="6.00" height="1.10" rx="0.55" fill="#888"/><rect x="96.25" y="548.47" width="7.40" height="2.50" rx="1.25" fill="#888" opacity="0.45"/><rect x="96.95" y="549.17" width="6.00" height="1.10" rx="0.55" fill="#888"/><rect x="105.20" y="548.39" width="7.40" height="2.50" rx="1.25" fill="#888" opacity="0.45"/><rect x="105.90" y="549.09" width="6.00" height="1.10" rx="0.55" fill="#888"/><rect x="114.15" y="548.31" width="7.40" height="2.50" rx="1.25" fill="#888" opacity="0.45"/><rect x="114.85" y="549.01" width="6.00" height="1.10" rx="0.55" fill="#888"/><rect x="123.10" y="548.23" width="7.40" height="2.50" rx="1.25" fill="#888" opacity="0.45"/><rect x="123.80" y="548.93" width="6.00" height="1.10" rx="0.55" fill="#888"/><rect x="132.05" y="548.15" width="7.40" height="2.50" rx="1.25" fill="#888" opacity="0.45"/><rect x="132.75" y="548.85" width="6.00" height="1.10" rx="0.55" fill="#888"/><rect x="141.00" y="548.07" width="7.40" height="2.50" rx="1.25" fill="#888" opacity="0.45"/><rect x="141.70" y="548.77" width="6.00" height="1.10" rx="0.55" fill="#888"/><rect x="149.95" y="547.99" width="7.40" height="2.50" rx="1.25" fill="#888" opacity="0.45"/><rect x="150.65" y="548.69" width="6.00" height="1.10" rx="0.55" fill="#888"/></g>
<rect x="50.10" y="556.80" width="108.20" height="10.40" fill="#d6d6d6"/>
<g><rect x="51.00" y="559.00" width="8.40" height="4.80" rx="2.20" fill="#000" opacity="0.45"/><rect x="51.70" y="559.70" width="7.00" height="3.40" rx="1.50" fill="#000"/><rect x="60.45" y="560.00" width="7.40" height="3.20" rx="1.60" fill="#8f8f8f" opacity="0.45"/><rect x="61.15" y="560.70" width="6.00" height="1.80" rx="0.90" fill="#8f8f8f"/><rect x="68.90" y="559.00" width="8.40" height="4.80" rx="2.20" fill="#000" opacity="0.45"/><rect x="69.60" y="559.70" width="7.00" height="3.40" rx="1.50" fill="#000"/><rect x="78.35" y="560.00" width="7.40" height="3.20" rx="1.60" fill="#8f8f8f" opacity="0.45"/><rect x="79.05" y="560.70" width="6.00" height="1.80" rx="0.90" fill="#8f8f8f"/><rect x="86.80" y="559.00" width="8.40" height="4.80" rx="2.20" fill="#000" opacity="0.45"/><rect x="87.50" y="559.70" width="7.00" height="3.40" rx="1.50" fill="#000"/><rect x="96.25" y="560.00" width="7.40" height="3.20" rx="1.60" fill="#8f8f8f" opacity="0.45"/><rect x="96.95" y="560.70" width="6.00" height="1.80" rx="0.90" fill="#8f8f8f"/><rect x="104.70" y="558.20" width="8.40" height="4.80" rx="2.20" fill="#000" opacity="0.45"/><rect x="105.40" y="558.90" width="7.00" height="3.40" rx="1.50" fill="#000"/><rect x="114.15" y="560.00" width="7.40" height="3.20" rx="1.60" fill="#8f8f8f" opacity="0.45"/><rect x="114.85" y="560.70" width="6.00" height="1.80" rx="0.90" fill="#8f8f8f"/><rect x="122.60" y="559.00" width="8.40" height="4.80" rx="2.20" fill="#000" opacity="0.45"/><rect x="123.30" y="559.70" width="7.00" height="3.40" rx="1.50" fill="#000"/><rect x="132.05" y="560.00" width="7.40" height="3.20" rx="1.60" fill="#555" opacity="0.45"/><rect x="132.75" y="560.70" width="6.00" height="1.80" rx="0.90" fill="#555"/><rect x="140.50" y="559.00" width="8.40" height="4.80" rx="2.20" fill="#000" opacity="0.45"/><rect x="141.20" y="559.70" width="7.00" height="3.40" rx="1.50" fill="#000"/><rect x="149.95" y="560.00" width="7.40" height="3.20" rx="1.60" fill="#555" opacity="0.45"/><rect x="150.65" y="560.70" width="6.00" height="1.80" rx="0.90" fill="#555"/></g>
<rect x="50.10" y="569.30" width="108.20" height="11.40" fill="#cfcfcf"/>
<g><rect x="51.30" y="573.60" width="7.80" height="3.60" rx="1.80" fill="#111" opacity="0.45"/><rect x="52.00" y="574.30" width="6.40" height="2.20" rx="1.10" fill="#111"/><rect x="60.25" y="573.60" width="7.80" height="3.60" rx="1.80" fill="#111" opacity="0.45"/><rect x="60.95" y="574.30" width="6.40" height="2.20" rx="1.10" fill="#111"/><rect x="69.20" y="573.60" width="7.80" height="3.60" rx="1.80" fill="#111" opacity="0.45"/><rect x="69.90" y="574.30" width="6.40" height="2.20" rx="1.10" fill="#111"/><rect x="78.15" y="573.60" width="7.80" height="3.60" rx="1.80" fill="#111" opacity="0.45"/><rect x="78.85" y="574.30" width="6.40" height="2.20" rx="1.10" fill="#111"/><rect x="87.10" y="572.80" width="7.80" height="3.60" rx="1.80" fill="#111" opacity="0.45"/><rect x="87.80" y="573.50" width="6.40" height="2.20" rx="1.10" fill="#111"/><rect x="96.05" y="572.80" width="7.80" height="3.60" rx="1.80" fill="#111" opacity="0.45"/><rect x="96.75" y="573.50" width="6.40" height="2.20" rx="1.10" fill="#111"/><rect x="105.00" y="572.80" width="7.80" height="3.60" rx="1.80" fill="#111" opacity="0.45"/><rect x="105.70" y="573.50" width="6.40" height="2.20" rx="1.10" fill="#111"/><rect x="113.95" y="573.60" width="7.80" height="3.60" rx="1.80" fill="#111" opacity="0.45"/><rect x="114.65" y="574.30" width="6.40" height="2.20" rx="1.10" fill="#111"/><rect x="122.90" y="573.60" width="7.80" height="3.60" rx="1.80" fill="#111" opacity="0.45"/><rect x="123.60" y="574.30" width="6.40" height="2.20" rx="1.10" fill="#111"/><rect x="131.85" y="573.60" width="7.80" height="3.60" rx="1.80" fill="#111" opacity="0.45"/><rect x="132.55" y="574.30" width="6.40" height="2.20" rx="1.10" fill="#111"/><rect x="140.80" y="573.60" width="7.80" height="3.60" rx="1.80" fill="#111" opacity="0.45"/><rect x="141.50" y="574.30" width="6.40" height="2.20" rx="1.10" fill="#111"/><rect x="149.75" y="573.60" width="7.80" height="3.60" rx="1.80" fill="#111" opacity="0.45"/><rect x="150.45" y="574.30" width="6.40" height="2.20" rx="1.10" fill="#111"/></g>
<rect x="50.10" y="582.70" width="108.20" height="14.90" fill="#cdcdcd"/>
<g filter="url(#f4)"><rect x="51.10" y="586.30" width="8.20" height="5.40" rx="1.50" fill="#000"/><rect x="60.05" y="586.30" width="8.20" height="5.40" rx="1.50" fill="#000"/><rect x="69.00" y="586.30" width="8.20" height="5.40" rx="1.50" fill="#000"/><rect x="77.95" y="586.30" width="8.20" height="5.40" rx="1.50" fill="#000"/><rect x="86.90" y="586.30" width="8.20" height="5.40" rx="1.50" fill="#000"/><rect x="95.85" y="586.30" width="8.20" height="5.40" rx="1.50" fill="#000"/><rect x="104.80" y="586.30" width="8.20" height="5.40" rx="1.50" fill="#000"/><rect x="113.75" y="586.30" width="8.20" height="5.40" rx="1.50" fill="#000"/><rect x="122.70" y="586.30" width="8.20" height="5.40" rx="1.50" fill="#000"/><rect x="131.65" y="586.30" width="8.20" height="5.40" rx="1.50" fill="#000"/><rect x="140.60" y="586.30" width="8.20" height="5.40" rx="1.50" fill="#000"/><rect x="149.55" y="586.30" width="8.20" height="5.40" rx="1.50" fill="#000"/></g>
<rect x="50.10" y="599.40" width="108.20" height="14.30" fill="#6a6a6a"/>
<g filter="url(#f5)"><rect x="51.90" y="604.50" width="6.60" height="3.00" rx="1.50" fill="#2e2e2e"/><rect x="60.85" y="604.30" width="6.60" height="3.40" rx="1.50" fill="#050505"/><rect x="69.80" y="604.50" width="6.60" height="3.00" rx="1.50" fill="#2e2e2e"/><rect x="78.75" y="604.50" width="6.60" height="3.00" rx="1.50" fill="#2e2e2e"/><rect x="87.70" y="604.50" width="6.60" height="3.00" rx="1.50" fill="#2e2e2e"/><rect x="96.65" y="604.30" width="6.60" height="3.40" rx="1.50" fill="#101010"/><rect x="105.60" y="604.50" width="6.60" height="3.00" rx="1.50" fill="#2e2e2e"/><rect x="114.55" y="604.50" width="6.60" height="3.00" rx="1.50" fill="#2e2e2e"/><rect x="123.50" y="604.50" width="6.60" height="3.00" rx="1.50" fill="#2e2e2e"/><rect x="132.45" y="604.50" width="6.60" height="3.00" rx="1.50" fill="#2e2e2e"/><rect x="141.40" y="604.50" width="6.60" height="3.00" rx="1.50" fill="#2e2e2e"/><rect x="150.35" y="604.50" width="6.60" height="3.00" rx="1.50" fill="#2e2e2e"/></g>
<rect x="50.10" y="614.80" width="108.20" height="18.80" fill="#adadad"/>
<g><rect x="51.40" y="619.40" width="7.60" height="3.20" rx="1.60" fill="#5a5a5a" opacity="0.45"/><rect x="52.10" y="620.10" width="6.20" height="1.80" rx="0.90" fill="#5a5a5a"/><rect x="51.20" y="625.40" width="8.00" height="3.80" rx="1.90" fill="#111" opacity="0.45"/><rect x="51.90" y="626.10" width="6.60" height="2.40" rx="1.20" fill="#111"/><rect x="60.35" y="619.00" width="7.60" height="4.00" rx="2.00" fill="#000" opacity="0.45"/><rect x="61.05" y="619.70" width="6.20" height="2.60" rx="1.30" fill="#000"/><rect x="60.15" y="624.80" width="8.00" height="5.00" rx="2.20" fill="#000" opacity="0.45"/><rect x="60.85" y="625.50" width="6.60" height="3.60" rx="1.50" fill="#000"/><rect x="69.30" y="619.40" width="7.60" height="3.20" rx="1.60" fill="#6e6e6e" opacity="0.45"/><rect x="70.00" y="620.10" width="6.20" height="1.80" rx="0.90" fill="#6e6e6e"/><rect x="69.10" y="625.40" width="8.00" height="3.80" rx="1.90" fill="#222" opacity="0.45"/><rect x="69.80" y="626.10" width="6.60" height="2.40" rx="1.20" fill="#222"/><rect x="78.25" y="619.40" width="7.60" height="3.20" rx="1.60" fill="#2a2a2a" opacity="0.45"/><rect x="78.95" y="620.10" width="6.20" height="1.80" rx="0.90" fill="#2a2a2a"/><rect x="78.05" y="625.40" width="8.00" height="3.80" rx="1.90" fill="#0a0a0a" opacity="0.45"/><rect x="78.75" y="626.10" width="6.60" height="2.40" rx="1.20" fill="#0a0a0a"/><rect x="87.20" y="619.40" width="7.60" height="3.20" rx="1.60" fill="#5e5e5e" opacity="0.45"/><rect x="87.90" y="620.10" width="6.20" height="1.80" rx="0.90" fill="#5e5e5e"/><rect x="87.00" y="625.40" width="8.00" height="3.80" rx="1.90" fill="#1a1a1a" opacity="0.45"/><rect x="87.70" y="626.10" width="6.60" height="2.40" rx="1.20" fill="#1a1a1a"/><rect x="96.15" y="619.00" width="7.60" height="4.00" rx="2.00" fill="#000" opacity="0.45"/><rect x="96.85" y="619.70" width="6.20" height="2.60" rx="1.30" fill="#000"/><rect x="95.95" y="624.80" width="8.00" height="5.00" rx="2.20" fill="#000" opacity="0.45"/><rect x="96.65" y="625.50" width="6.60" height="3.60" rx="1.50" fill="#000"/><rect x="105.10" y="619.40" width="7.60" height="3.20" rx="1.60" fill="#6e6e6e" opacity="0.45"/><rect x="105.80" y="620.10" width="6.20" height="1.80" rx="0.90" fill="#6e6e6e"/><rect x="104.90" y="625.40" width="8.00" height="3.80" rx="1.90" fill="#222" opacity="0.45"/><rect x="105.60" y="626.10" width="6.60" height="2.40" rx="1.20" fill="#222"/><rect x="114.05" y="619.40" width="7.60" height="3.20" rx="1.60" fill="#4a4a4a" opacity="0.45"/><rect x="114.75" y="620.10" width="6.20" height="1.80" rx="0.90" fill="#4a4a4a"/><rect x="113.85" y="625.40" width="8.00" height="3.80" rx="1.90" fill="#1a1a1a" opacity="0.45"/><rect x="114.55" y="626.10" width="6.60" height="2.40" rx="1.20" fill="#1a1a1a"/><rect x="123.00" y="619.40" width="7.60" height="3.20" rx="1.60" fill="#5a5a5a" opacity="0.45"/><rect x="123.70" y="620.10" width="6.20" height="1.80" rx="0.90" fill="#5a5a5a"/><rect x="122.80" y="625.40" width="8.00" height="3.80" rx="1.90" fill="#222" opacity="0.45"/><rect x="123.50" y="626.10" width="6.60" height="2.40" rx="1.20" fill="#222"/><rect x="131.95" y="619.40" width="7.60" height="3.20" rx="1.60" fill="#4a4a4a" opacity="0.45"/><rect x="132.65" y="620.10" width="6.20" height="1.80" rx="0.90" fill="#4a4a4a"/><rect x="131.75" y="625.40" width="8.00" height="3.80" rx="1.90" fill="#1a1a1a" opacity="0.45"/><rect x="132.45" y="626.10" width="6.60" height="2.40" rx="1.20" fill="#1a1a1a"/><rect x="140.90" y="619.40" width="7.60" height="3.20" rx="1.60" fill="#6a6a6a" opacity="0.45"/><rect x="141.60" y="620.10" width="6.20" height="1.80" rx="0.90" fill="#6a6a6a"/><rect x="140.70" y="625.40" width="8.00" height="3.80" rx="1.90" fill="#2a2a2a" opacity="0.45"/><rect x="141.40" y="626.10" width="6.60" height="2.40" rx="1.20" fill="#2a2a2a"/><rect x="149.85" y="619.40" width="7.60" height="3.20" rx="1.60" fill="#5a5a5a" opacity="0.45"/><rect x="150.55" y="620.10" width="6.20" height="1.80" rx="0.90" fill="#5a5a5a"/><rect x="149.65" y="625.40" width="8.00" height="3.80" rx="1.90" fill="#1a1a1a" opacity="0.45"/><rect x="150.35" y="626.10" width="6.60" height="2.40" rx="1.20" fill="#1a1a1a"/></g>
<rect x="50.10" y="636.10" width="108.20" height="9.80" fill="#c0c0c0"/>
<g><rect x="51.10" y="638.30" width="8.20" height="5.00" rx="2.20" fill="#000" opacity="0.45"/><rect x="51.80" y="639.00" width="6.80" height="3.60" rx="1.50" fill="#000"/><rect x="60.05" y="638.30" width="8.20" height="5.00" rx="2.20" fill="#000" opacity="0.45"/><rect x="60.75" y="639.00" width="6.80" height="3.60" rx="1.50" fill="#000"/><rect x="69.00" y="638.30" width="8.20" height="5.00" rx="2.20" fill="#000" opacity="0.45"/><rect x="69.70" y="639.00" width="6.80" height="3.60" rx="1.50" fill="#000"/><rect x="77.95" y="638.30" width="8.20" height="5.00" rx="2.20" fill="#000" opacity="0.45"/><rect x="78.65" y="639.00" width="6.80" height="3.60" rx="1.50" fill="#000"/><rect x="86.90" y="638.30" width="8.20" height="5.00" rx="2.20" fill="#000" opacity="0.45"/><rect x="87.60" y="639.00" width="6.80" height="3.60" rx="1.50" fill="#000"/><rect x="95.85" y="638.30" width="8.20" height="5.00" rx="2.20" fill="#000" opacity="0.45"/><rect x="96.55" y="639.00" width="6.80" height="3.60" rx="1.50" fill="#000"/><rect x="104.80" y="638.30" width="8.20" height="5.00" rx="2.20" fill="#000" opacity="0.45"/><rect x="105.50" y="639.00" width="6.80" height="3.60" rx="1.50" fill="#000"/><rect x="113.75" y="638.30" width="8.20" height="5.00" rx="2.20" fill="#000" opacity="0.45"/><rect x="114.45" y="639.00" width="6.80" height="3.60" rx="1.50" fill="#000"/><rect x="122.70" y="638.30" width="8.20" height="5.00" rx="2.20" fill="#000" opacity="0.45"/><rect x="123.40" y="639.00" width="6.80" height="3.60" rx="1.50" fill="#000"/><rect x="131.65" y="638.30" width="8.20" height="5.00" rx="2.20" fill="#000" opacity="0.45"/><rect x="132.35" y="639.00" width="6.80" height="3.60" rx="1.50" fill="#000"/><rect x="140.60" y="638.30" width="8.20" height="5.00" rx="2.20" fill="#000" opacity="0.45"/><rect x="141.30" y="639.00" width="6.80" height="3.60" rx="1.50" fill="#000"/><rect x="149.55" y="638.30" width="8.20" height="5.00" rx="2.20" fill="#000" opacity="0.45"/><rect x="150.25" y="639.00" width="6.80" height="3.60" rx="1.50" fill="#000"/></g>
<rect x="50.10" y="648.10" width="108.20" height="10.40" fill="#c8c8c8"/>
<g><rect x="50.90" y="650.40" width="8.60" height="5.40" rx="2.20" fill="#000" opacity="0.45"/><rect x="51.60" y="651.10" width="7.20" height="4.00" rx="1.50" fill="#000"/><rect x="59.85" y="650.40" width="8.60" height="5.40" rx="2.20" fill="#000" opacity="0.45"/><rect x="60.55" y="651.10" width="7.20" height="4.00" rx="1.50" fill="#000"/><rect x="68.80" y="650.40" width="8.60" height="5.40" rx="2.20" fill="#000" opacity="0.45"/><rect x="69.50" y="651.10" width="7.20" height="4.00" rx="1.50" fill="#000"/><rect x="77.75" y="650.40" width="8.60" height="5.40" rx="2.20" fill="#000" opacity="0.45"/><rect x="78.45" y="651.10" width="7.20" height="4.00" rx="1.50" fill="#000"/><rect x="86.70" y="650.40" width="8.60" height="5.40" rx="2.20" fill="#000" opacity="0.45"/><rect x="87.40" y="651.10" width="7.20" height="4.00" rx="1.50" fill="#000"/><rect x="95.65" y="650.40" width="8.60" height="5.40" rx="2.20" fill="#000" opacity="0.45"/><rect x="96.35" y="651.10" width="7.20" height="4.00" rx="1.50" fill="#000"/><rect x="104.60" y="650.40" width="8.60" height="5.40" rx="2.20" fill="#000" opacity="0.45"/><rect x="105.30" y="651.10" width="7.20" height="4.00" rx="1.50" fill="#000"/><rect x="113.55" y="650.40" width="8.60" height="5.40" rx="2.20" fill="#000" opacity="0.45"/><rect x="114.25" y="651.10" width="7.20" height="4.00" rx="1.50" fill="#000"/><rect x="122.50" y="650.40" width="8.60" height="5.40" rx="2.20" fill="#000" opacity="0.45"/><rect x="123.20" y="651.10" width="7.20" height="4.00" rx="1.50" fill="#000"/><rect x="131.45" y="650.40" width="8.60" height="5.40" rx="2.20" fill="#000" opacity="0.45"/><rect x="132.15" y="651.10" width="7.20" height="4.00" rx="1.50" fill="#000"/><rect x="140.40" y="650.40" width="8.60" height="5.40" rx="2.20" fill="#000" opacity="0.45"/><rect x="141.10" y="651.10" width="7.20" height="4.00" rx="1.50" fill="#000"/><rect x="149.35" y="650.40" width="8.60" height="5.40" rx="2.20" fill="#000" opacity="0.45"/><rect x="150.05" y="651.10" width="7.20" height="4.00" rx="1.50" fill="#000"/></g>
<text x="264.30" y="481.20" font-size="11.5" fill="#000" font-weight="bold">H</text>
<text x="330.60" y="518.20" font-size="8.2" fill="#231f20" textLength="41.00" lengthAdjust="spacingAndGlyphs">Day-3 CTG</text>
<line x1="311.80" y1="523.20" x2="311.80" y2="601.30" stroke="#231f20" stroke-width="1.1"/>
<line x1="311.30" y1="600.80" x2="390.00" y2="600.80" stroke="#231f20" stroke-width="1.1"/>
<line x1="309.00" y1="600.80" x2="311.80" y2="600.80" stroke="#231f20" stroke-width="0.9"/>
<text x="308.00" y="602.80" font-size="5.6" fill="#231f20" text-anchor="end">0</text>
<line x1="309.00" y1="588.25" x2="311.80" y2="588.25" stroke="#231f20" stroke-width="0.9"/>
<text x="308.00" y="590.25" font-size="5.6" fill="#231f20" text-anchor="end">20</text>
<line x1="309.00" y1="575.70" x2="311.80" y2="575.70" stroke="#231f20" stroke-width="0.9"/>
<text x="308.00" y="577.70" font-size="5.6" fill="#231f20" text-anchor="end">40</text>
<line x1="309.00" y1="563.15" x2="311.80" y2="563.15" stroke="#231f20" stroke-width="0.9"/>
<text x="308.00" y="565.15" font-size="5.6" fill="#231f20" text-anchor="end">60</text>
<line x1="309.00" y1="550.60" x2="311.80" y2="550.60" stroke="#231f20" stroke-width="0.9"/>
<text x="308.00" y="552.60" font-size="5.6" fill="#231f20" text-anchor="end">80</text>
<line x1="309.00" y1="538.05" x2="311.80" y2="538.05" stroke="#231f20" stroke-width="0.9"/>
<text x="308.00" y="540.05" font-size="5.6" fill="#231f20" text-anchor="end">100</text>
<line x1="309.00" y1="525.50" x2="311.80" y2="525.50" stroke="#231f20" stroke-width="0.9"/>
<text x="308.00" y="527.50" font-size="5.6" fill="#231f20" text-anchor="end">120</text>
<line x1="311.80" y1="600.80" x2="311.80" y2="603.60" stroke="#231f20" stroke-width="0.9"/>
<line x1="319.40" y1="600.80" x2="319.40" y2="602.40" stroke="#231f20" stroke-width="0.6"/>
<line x1="323.85" y1="600.80" x2="323.85" y2="602.40" stroke="#231f20" stroke-width="0.6"/>
<line x1="327.00" y1="600.80" x2="327.00" y2="602.40" stroke="#231f20" stroke-width="0.6"/>
<line x1="329.45" y1="600.80" x2="329.45" y2="602.40" stroke="#231f20" stroke-width="0.6"/>
<line x1="331.45" y1="600.80" x2="331.45" y2="602.40" stroke="#231f20" stroke-width="0.6"/>
<line x1="333.14" y1="600.80" x2="333.14" y2="602.40" stroke="#231f20" stroke-width="0.6"/>
<line x1="334.60" y1="600.80" x2="334.60" y2="602.40" stroke="#231f20" stroke-width="0.6"/>
<line x1="335.89" y1="600.80" x2="335.89" y2="602.40" stroke="#231f20" stroke-width="0.6"/>
<text x="311.80" y="612.00" font-size="5.6" fill="#231f20" text-anchor="middle">0.01</text>
<line x1="337.05" y1="600.80" x2="337.05" y2="603.60" stroke="#231f20" stroke-width="0.9"/>
<line x1="344.65" y1="600.80" x2="344.65" y2="602.40" stroke="#231f20" stroke-width="0.6"/>
<line x1="349.10" y1="600.80" x2="349.10" y2="602.40" stroke="#231f20" stroke-width="0.6"/>
<line x1="352.25" y1="600.80" x2="352.25" y2="602.40" stroke="#231f20" stroke-width="0.6"/>
<line x1="354.70" y1="600.80" x2="354.70" y2="602.40" stroke="#231f20" stroke-width="0.6"/>
<line x1="356.70" y1="600.80" x2="356.70" y2="602.40" stroke="#231f20" stroke-width="0.6"/>
<line x1="358.39" y1="600.80" x2="358.39" y2="602.40" stroke="#231f20" stroke-width="0.6"/>
<line x1="359.85" y1="600.80" x2="359.85" y2="602.40" stroke="#231f20" stroke-width="0.6"/>
<line x1="361.14" y1="600.80" x2="361.14" y2="602.40" stroke="#231f20" stroke-width="0.6"/>
<text x="337.05" y="612.00" font-size="5.6" fill="#231f20" text-anchor="middle">0.1</text>
<line x1="362.30" y1="600.80" x2="362.30" y2="603.60" stroke="#231f20" stroke-width="0.9"/>
<line x1="369.90" y1="600.80" x2="369.90" y2="602.40" stroke="#231f20" stroke-width="0.6"/>
<line x1="374.35" y1="600.80" x2="374.35" y2="602.40" stroke="#231f20" stroke-width="0.6"/>
<line x1="377.50" y1="600.80" x2="377.50" y2="602.40" stroke="#231f20" stroke-width="0.6"/>
<line x1="379.95" y1="600.80" x2="379.95" y2="602.40" stroke="#231f20" stroke-width="0.6"/>
<line x1="381.95" y1="600.80" x2="381.95" y2="602.40" stroke="#231f20" stroke-width="0.6"/>
<line x1="383.64" y1="600.80" x2="383.64" y2="602.40" stroke="#231f20" stroke-width="0.6"/>
<line x1="385.10" y1="600.80" x2="385.10" y2="602.40" stroke="#231f20" stroke-width="0.6"/>
<line x1="386.39" y1="600.80" x2="386.39" y2="602.40" stroke="#231f20" stroke-width="0.6"/>
<text x="362.30" y="612.00" font-size="5.6" fill="#231f20" text-anchor="middle">1</text>
<line x1="387.55" y1="600.80" x2="387.55" y2="603.60" stroke="#231f20" stroke-width="0.9"/>
<text x="387.55" y="612.00" font-size="5.6" fill="#231f20" text-anchor="middle">10</text>
<text x="351.40" y="624.00" font-size="7.2" fill="#231f20" text-anchor="middle" textLength="47.30" lengthAdjust="spacingAndGlyphs">CC-90009 (μM)</text>
<text x="280.6" y="561.8" font-size="7.0" fill="#231f20" text-anchor="middle" textLength="61.6" lengthAdjust="spacingAndGlyphs" transform="rotate(-90 280.2 561.8)">% RLU normalized to</text>
<text x="290.3" y="561.8" font-size="7.0" fill="#231f20" text-anchor="middle" textLength="41.0" lengthAdjust="spacingAndGlyphs" transform="rotate(-90 289.8 561.8)">DMSO control</text>
<path d="M311.80,540.57L312.43,540.64L313.06,540.70L313.69,540.77L314.32,540.85L314.96,540.94L315.59,541.03L316.22,541.14L316.85,541.25L317.48,541.37L318.11,541.51L318.74,541.65L319.38,541.81L320.01,541.98L320.64,542.17L321.27,542.37L321.90,542.59L322.53,542.83L323.16,543.08L323.79,543.36L324.43,543.66L325.06,543.98L325.69,544.33L326.32,544.71L326.95,545.11L327.58,545.53L328.21,545.99L328.84,546.48L329.48,547.00L330.11,547.55L330.74,548.13L331.37,548.75L332.00,549.39L332.63,550.07L333.26,550.78L333.89,551.52L334.53,552.29L335.16,553.08L335.79,553.90L336.42,554.75L337.05,555.61L337.68,556.49L338.31,557.38L338.94,558.28L339.57,559.19L340.21,560.10L340.84,561.01L341.47,561.91L342.10,562.81L342.73,563.69L343.36,564.55L343.99,565.40L344.62,566.22L345.26,567.02L345.89,567.79L346.52,568.53L347.15,569.25L347.78,569.93L348.41,570.58L349.04,571.20L349.68,571.78L350.31,572.34L350.94,572.86L351.57,573.35L352.20,573.81L352.83,574.24L353.46,574.65L354.09,575.02L354.73,575.37L355.36,575.70L355.99,576.00L356.62,576.28L357.25,576.54L357.88,576.78L358.51,577.00L359.14,577.21L359.77,577.40L360.41,577.57L361.04,577.73L361.67,577.87L362.30,578.01L362.93,578.13L363.56,578.25L364.19,578.35L364.83,578.45L365.46,578.53L366.09,578.61L366.72,578.69L367.35,578.75L367.98,578.82L368.61,578.87L369.24,578.92L369.88,578.97L370.51,579.01L371.14,579.05L371.77,579.09L372.40,579.12L373.03,579.15L373.66,579.18L374.29,579.20L374.93,579.23L375.56,579.25L376.19,579.27L376.82,579.28L377.45,579.30L378.08,579.31L378.71,579.33L379.34,579.34L379.98,579.35L380.61,579.36L381.24,579.37L381.87,579.38L382.50,579.39L383.13,579.39L383.76,579.40L384.39,579.40L385.02,579.41L385.66,579.42L386.29,579.42L386.92,579.42L387.55,579.43" fill="none" stroke="#f0a12c" stroke-width="1.0"/>
<path d="M311.80,540.53L312.43,540.59L313.06,540.65L313.69,540.72L314.32,540.79L314.96,540.88L315.59,540.96L316.22,541.06L316.85,541.17L317.48,541.28L318.11,541.41L318.74,541.54L319.38,541.69L320.01,541.85L320.64,542.03L321.27,542.22L321.90,542.42L322.53,542.65L323.16,542.89L323.79,543.15L324.43,543.43L325.06,543.74L325.69,544.07L326.32,544.42L326.95,544.80L327.58,545.21L328.21,545.64L328.84,546.11L329.48,546.60L330.11,547.13L330.74,547.68L331.37,548.27L332.00,548.89L332.63,549.55L333.26,550.23L333.89,550.94L334.53,551.69L335.16,552.46L335.79,553.26L336.42,554.08L337.05,554.92L337.68,555.78L338.31,556.66L338.94,557.55L339.57,558.45L340.21,559.35L340.84,560.25L341.47,561.15L342.10,562.04L342.73,562.93L343.36,563.80L343.99,564.65L344.62,565.48L345.26,566.29L345.89,567.07L346.52,567.83L347.15,568.55L347.78,569.25L348.41,569.92L349.04,570.55L349.68,571.15L350.31,571.72L350.94,572.26L351.57,572.77L352.20,573.25L352.83,573.69L353.46,574.11L354.09,574.50L354.73,574.87L355.36,575.21L355.99,575.52L356.62,575.81L357.25,576.08L357.88,576.34L358.51,576.57L359.14,576.78L359.77,576.98L360.41,577.16L361.04,577.33L361.67,577.48L362.30,577.62L362.93,577.75L363.56,577.87L364.19,577.98L364.83,578.08L365.46,578.17L366.09,578.26L366.72,578.33L367.35,578.40L367.98,578.47L368.61,578.53L369.24,578.58L369.88,578.63L370.51,578.68L371.14,578.72L371.77,578.76L372.40,578.79L373.03,578.82L373.66,578.85L374.29,578.88L374.93,578.90L375.56,578.92L376.19,578.94L376.82,578.96L377.45,578.98L378.08,578.99L378.71,579.01L379.34,579.02L379.98,579.03L380.61,579.04L381.24,579.05L381.87,579.06L382.50,579.07L383.13,579.08L383.76,579.08L384.39,579.09L385.02,579.09L385.66,579.10L386.29,579.10L386.92,579.11L387.55,579.11" fill="none" stroke="#4b5a8c" stroke-width="1.0"/>
<path d="M311.80,540.57L312.43,540.63L313.06,540.70L313.69,540.77L314.32,540.85L314.96,540.93L315.59,541.03L316.22,541.13L316.85,541.24L317.48,541.36L318.11,541.49L318.74,541.64L319.38,541.79L320.01,541.97L320.64,542.15L321.27,542.35L321.90,542.57L322.53,542.80L323.16,543.06L323.79,543.33L324.43,543.63L325.06,543.95L325.69,544.30L326.32,544.67L326.95,545.06L327.58,545.49L328.21,545.94L328.84,546.43L329.48,546.94L330.11,547.49L330.74,548.07L331.37,548.68L332.00,549.32L332.63,549.99L333.26,550.69L333.89,551.43L334.53,552.19L335.16,552.98L335.79,553.79L336.42,554.63L337.05,555.49L337.68,556.36L338.31,557.24L338.94,558.14L339.57,559.04L340.21,559.94L340.84,560.84L341.47,561.74L342.10,562.62L342.73,563.50L343.36,564.36L343.99,565.19L344.62,566.01L345.26,566.80L345.89,567.57L346.52,568.31L347.15,569.01L347.78,569.69L348.41,570.34L349.04,570.95L349.68,571.53L350.31,572.08L350.94,572.60L351.57,573.09L352.20,573.54L352.83,573.97L353.46,574.37L354.09,574.75L354.73,575.09L355.36,575.42L355.99,575.72L356.62,575.99L357.25,576.25L357.88,576.49L358.51,576.71L359.14,576.91L359.77,577.10L360.41,577.27L361.04,577.43L361.67,577.57L362.30,577.71L362.93,577.83L363.56,577.94L364.19,578.05L364.83,578.14L365.46,578.23L366.09,578.31L366.72,578.38L367.35,578.45L367.98,578.51L368.61,578.56L369.24,578.61L369.88,578.66L370.51,578.70L371.14,578.74L371.77,578.78L372.40,578.81L373.03,578.84L373.66,578.87L374.29,578.89L374.93,578.92L375.56,578.94L376.19,578.95L376.82,578.97L377.45,578.99L378.08,579.00L378.71,579.02L379.34,579.03L379.98,579.04L380.61,579.05L381.24,579.06L381.87,579.07L382.50,579.07L383.13,579.08L383.76,579.09L384.39,579.09L385.02,579.10L385.66,579.10L386.29,579.11L386.92,579.11L387.55,579.11" fill="none" stroke="#5a2a7e" stroke-width="1.0"/>
<path d="M311.80,540.54L312.43,540.82L313.06,541.14L313.69,541.51L314.32,541.92L314.96,542.39L315.59,542.93L316.22,543.54L316.85,544.22L317.48,544.99L318.11,545.85L318.74,546.82L319.38,547.89L320.01,549.07L320.64,550.38L321.27,551.80L321.90,553.35L322.53,555.02L323.16,556.80L323.79,558.70L324.43,560.69L325.06,562.76L325.69,564.91L326.32,567.09L326.95,569.31L327.58,571.52L328.21,573.71L328.84,575.86L329.48,577.95L330.11,579.96L330.74,581.87L331.37,583.67L332.00,585.36L332.63,586.93L333.26,588.37L333.89,589.70L334.53,590.90L335.16,591.99L335.79,592.97L336.42,593.85L337.05,594.64L337.68,595.33L338.31,595.95L338.94,596.50L339.57,596.98L340.21,597.40L340.84,597.78L341.47,598.10L342.10,598.39L342.73,598.64L343.36,598.85L343.99,599.04L344.62,599.21L345.26,599.35L345.89,599.48L346.52,599.59L347.15,599.68L347.78,599.76L348.41,599.83L349.04,599.90L349.68,599.95L350.31,600.00L350.94,600.04L351.57,600.07L352.20,600.10L352.83,600.13L353.46,600.15L354.09,600.17L354.73,600.19L355.36,600.20L355.99,600.21L356.62,600.23L357.25,600.24L357.88,600.24L358.51,600.25L359.14,600.26L359.77,600.26L360.41,600.27L361.04,600.27L361.67,600.28L362.30,600.28L362.93,600.28L363.56,600.28L364.19,600.29L364.83,600.29L365.46,600.29L366.09,600.29L366.72,600.29L367.35,600.29L367.98,600.29L368.61,600.29L369.24,600.29L369.88,600.29L370.51,600.29L371.14,600.30L371.77,600.30L372.40,600.30L373.03,600.30L373.66,600.30L374.29,600.30L374.93,600.30L375.56,600.30L376.19,600.30L376.82,600.30L377.45,600.30L378.08,600.30L378.71,600.30L379.34,600.30L379.98,600.30L380.61,600.30L381.24,600.30L381.87,600.30L382.50,600.30L383.13,600.30L383.76,600.30L384.39,600.30L385.02,600.30L385.66,600.30L386.29,600.30L386.92,600.30L387.55,600.30" fill="none" stroke="#1f4e9a" stroke-width="1.0"/>
<path d="M311.80,540.35L312.43,540.45L313.06,540.57L313.69,540.70L314.32,540.83L314.96,540.99L315.59,541.15L316.22,541.34L316.85,541.54L317.48,541.75L318.11,541.99L318.74,542.26L319.38,542.54L320.01,542.85L320.64,543.19L321.27,543.56L321.90,543.95L322.53,544.39L323.16,544.86L323.79,545.36L324.43,545.91L325.06,546.49L325.69,547.12L326.32,547.80L326.95,548.52L327.58,549.29L328.21,550.11L328.84,550.98L329.48,551.90L330.11,552.86L330.74,553.88L331.37,554.93L332.00,556.04L332.63,557.18L333.26,558.36L333.89,559.58L334.53,560.82L335.16,562.09L335.79,563.37L336.42,564.67L337.05,565.97L337.68,567.28L338.31,568.58L338.94,569.86L339.57,571.13L340.21,572.37L340.84,573.59L341.47,574.77L342.10,575.91L342.73,577.01L343.36,578.07L343.99,579.09L344.62,580.05L345.26,580.97L345.89,581.84L346.52,582.65L347.15,583.42L347.78,584.15L348.41,584.82L349.04,585.45L349.68,586.04L350.31,586.59L350.94,587.09L351.57,587.56L352.20,587.99L352.83,588.39L353.46,588.76L354.09,589.10L354.73,589.41L355.36,589.69L355.99,589.95L356.62,590.19L357.25,590.41L357.88,590.61L358.51,590.79L359.14,590.96L359.77,591.11L360.41,591.25L361.04,591.38L361.67,591.49L362.30,591.60L362.93,591.69L363.56,591.78L364.19,591.86L364.83,591.93L365.46,592.00L366.09,592.06L366.72,592.11L367.35,592.16L367.98,592.21L368.61,592.25L369.24,592.28L369.88,592.32L370.51,592.35L371.14,592.37L371.77,592.40L372.40,592.42L373.03,592.44L373.66,592.46L374.29,592.48L374.93,592.49L375.56,592.51L376.19,592.52L376.82,592.53L377.45,592.54L378.08,592.55L378.71,592.56L379.34,592.57L379.98,592.57L380.61,592.58L381.24,592.59L381.87,592.59L382.50,592.60L383.13,592.60L383.76,592.60L384.39,592.61L385.02,592.61L385.66,592.61L386.29,592.62L386.92,592.62L387.55,592.62" fill="none" stroke="#6cb43f" stroke-width="1.0"/>
<path d="M311.80,540.58L312.43,540.64L313.06,540.71L313.69,540.78L314.32,540.86L314.96,540.95L315.59,541.04L316.22,541.15L316.85,541.26L317.48,541.38L318.11,541.52L318.74,541.67L319.38,541.82L320.01,542.00L320.64,542.19L321.27,542.39L321.90,542.61L322.53,542.85L323.16,543.11L323.79,543.39L324.43,543.69L325.06,544.02L325.69,544.37L326.32,544.74L326.95,545.15L327.58,545.58L328.21,546.04L328.84,546.53L329.48,547.05L330.11,547.61L330.74,548.20L331.37,548.82L332.00,549.47L332.63,550.15L333.26,550.87L333.89,551.61L334.53,552.39L335.16,553.19L335.79,554.02L336.42,554.86L337.05,555.73L337.68,556.62L338.31,557.52L338.94,558.43L339.57,559.34L340.21,560.26L340.84,561.18L341.47,562.09L342.10,562.99L342.73,563.88L343.36,564.75L343.99,565.60L344.62,566.43L345.26,567.23L345.89,568.01L346.52,568.76L347.15,569.48L347.78,570.17L348.41,570.82L349.04,571.45L349.68,572.04L350.31,572.59L350.94,573.12L351.57,573.62L352.20,574.08L352.83,574.52L353.46,574.92L354.09,575.30L354.73,575.66L355.36,575.98L355.99,576.29L356.62,576.57L357.25,576.83L357.88,577.07L358.51,577.30L359.14,577.50L359.77,577.69L360.41,577.87L361.04,578.03L361.67,578.18L362.30,578.31L362.93,578.44L363.56,578.55L364.19,578.66L364.83,578.75L365.46,578.84L366.09,578.92L366.72,579.00L367.35,579.06L367.98,579.12L368.61,579.18L369.24,579.23L369.88,579.28L370.51,579.32L371.14,579.36L371.77,579.40L372.40,579.43L373.03,579.46L373.66,579.49L374.29,579.52L374.93,579.54L375.56,579.56L376.19,579.58L376.82,579.60L377.45,579.61L378.08,579.63L378.71,579.64L379.34,579.65L379.98,579.66L380.61,579.67L381.24,579.68L381.87,579.69L382.50,579.70L383.13,579.71L383.76,579.71L384.39,579.72L385.02,579.72L385.66,579.73L386.29,579.73L386.92,579.74L387.55,579.74" fill="none" stroke="#b0163e" stroke-width="1.3"/>
<path d="M310.50,539.30L311.80,538.00L313.10,539.30L311.80,540.60Z" fill="#f0a12c"/>
<line x1="311.80" y1="537.10" x2="311.80" y2="541.50" stroke="#f0a12c" stroke-width="0.5"/>
<path d="M323.69,546.21L324.99,544.91L326.29,546.21L324.99,547.51Z" fill="#f0a12c"/>
<line x1="324.99" y1="544.01" x2="324.99" y2="548.41" stroke="#f0a12c" stroke-width="0.5"/>
<path d="M335.75,559.38L337.05,558.09L338.35,559.38L337.05,560.68Z" fill="#f0a12c"/>
<line x1="337.05" y1="557.18" x2="337.05" y2="561.59" stroke="#f0a12c" stroke-width="0.5"/>
<path d="M348.94,569.42L350.24,568.12L351.54,569.42L350.24,570.72Z" fill="#f0a12c"/>
<line x1="350.24" y1="567.22" x2="350.24" y2="571.62" stroke="#f0a12c" stroke-width="0.5"/>
<path d="M361.00,576.95L362.30,575.65L363.60,576.95L362.30,578.25Z" fill="#f0a12c"/>
<line x1="362.30" y1="574.75" x2="362.30" y2="579.15" stroke="#f0a12c" stroke-width="0.5"/>
<path d="M374.19,579.46L375.49,578.16L376.79,579.46L375.49,580.76Z" fill="#f0a12c"/>
<line x1="375.49" y1="577.26" x2="375.49" y2="581.66" stroke="#f0a12c" stroke-width="0.5"/>
<path d="M386.25,581.35L387.55,580.05L388.85,581.35L387.55,582.65Z" fill="#f0a12c"/>
<line x1="387.55" y1="579.15" x2="387.55" y2="583.55" stroke="#f0a12c" stroke-width="0.5"/>
<path d="M310.50,539.30L311.80,538.00L313.10,539.30L311.80,540.60Z" fill="#4b5a8c"/>
<line x1="311.80" y1="537.10" x2="311.80" y2="541.50" stroke="#4b5a8c" stroke-width="0.5"/>
<path d="M323.69,545.58L324.99,544.28L326.29,545.58L324.99,546.88Z" fill="#4b5a8c"/>
<line x1="324.99" y1="543.38" x2="324.99" y2="547.78" stroke="#4b5a8c" stroke-width="0.5"/>
<path d="M335.75,558.13L337.05,556.83L338.35,558.13L337.05,559.43Z" fill="#4b5a8c"/>
<line x1="337.05" y1="555.93" x2="337.05" y2="560.33" stroke="#4b5a8c" stroke-width="0.5"/>
<path d="M348.94,568.17L350.24,566.87L351.54,568.17L350.24,569.47Z" fill="#4b5a8c"/>
<line x1="350.24" y1="565.97" x2="350.24" y2="570.37" stroke="#4b5a8c" stroke-width="0.5"/>
<path d="M361.00,575.70L362.30,574.40L363.60,575.70L362.30,577.00Z" fill="#4b5a8c"/>
<line x1="362.30" y1="573.50" x2="362.30" y2="577.90" stroke="#4b5a8c" stroke-width="0.5"/>
<path d="M374.19,578.84L375.49,577.54L376.79,578.84L375.49,580.14Z" fill="#4b5a8c"/>
<line x1="375.49" y1="576.64" x2="375.49" y2="581.04" stroke="#4b5a8c" stroke-width="0.5"/>
<path d="M386.25,580.09L387.55,578.79L388.85,580.09L387.55,581.39Z" fill="#4b5a8c"/>
<line x1="387.55" y1="577.89" x2="387.55" y2="582.29" stroke="#4b5a8c" stroke-width="0.5"/>
<path d="M310.50,539.30L311.80,538.00L313.10,539.30L311.80,540.60Z" fill="#5a2a7e"/>
<line x1="311.80" y1="537.10" x2="311.80" y2="541.50" stroke="#5a2a7e" stroke-width="0.5"/>
<path d="M323.69,545.58L324.99,544.28L326.29,545.58L324.99,546.88Z" fill="#5a2a7e"/>
<line x1="324.99" y1="543.38" x2="324.99" y2="547.78" stroke="#5a2a7e" stroke-width="0.5"/>
<path d="M335.75,558.76L337.05,557.46L338.35,558.76L337.05,560.06Z" fill="#5a2a7e"/>
<line x1="337.05" y1="556.56" x2="337.05" y2="560.96" stroke="#5a2a7e" stroke-width="0.5"/>
<path d="M348.94,568.80L350.24,567.50L351.54,568.80L350.24,570.10Z" fill="#5a2a7e"/>
<line x1="350.24" y1="566.60" x2="350.24" y2="571.00" stroke="#5a2a7e" stroke-width="0.5"/>
<path d="M361.00,576.33L362.30,575.03L363.60,576.33L362.30,577.63Z" fill="#5a2a7e"/>
<line x1="362.30" y1="574.13" x2="362.30" y2="578.53" stroke="#5a2a7e" stroke-width="0.5"/>
<path d="M374.19,579.46L375.49,578.16L376.79,579.46L375.49,580.76Z" fill="#5a2a7e"/>
<line x1="375.49" y1="577.26" x2="375.49" y2="581.66" stroke="#5a2a7e" stroke-width="0.5"/>
<path d="M386.25,580.72L387.55,579.42L388.85,580.72L387.55,582.02Z" fill="#5a2a7e"/>
<line x1="387.55" y1="578.52" x2="387.55" y2="582.92" stroke="#5a2a7e" stroke-width="0.5"/>
<path d="M310.50,536.17L311.80,534.87L313.10,536.17L311.80,537.47Z" fill="#1f4e9a"/>
<line x1="311.80" y1="533.97" x2="311.80" y2="538.37" stroke="#1f4e9a" stroke-width="0.5"/>
<path d="M323.69,563.78L324.99,562.48L326.29,563.78L324.99,565.08Z" fill="#1f4e9a"/>
<line x1="324.99" y1="561.58" x2="324.99" y2="565.98" stroke="#1f4e9a" stroke-width="0.5"/>
<path d="M335.75,592.64L337.05,591.34L338.35,592.64L337.05,593.94Z" fill="#1f4e9a"/>
<line x1="337.05" y1="590.44" x2="337.05" y2="594.84" stroke="#1f4e9a" stroke-width="0.5"/>
<path d="M348.94,599.23L350.24,597.93L351.54,599.23L350.24,600.53Z" fill="#1f4e9a"/>
<line x1="350.24" y1="597.03" x2="350.24" y2="601.43" stroke="#1f4e9a" stroke-width="0.5"/>
<path d="M361.00,600.17L362.30,598.87L363.60,600.17L362.30,601.47Z" fill="#1f4e9a"/>
<line x1="362.30" y1="597.97" x2="362.30" y2="602.37" stroke="#1f4e9a" stroke-width="0.5"/>
<path d="M374.19,600.17L375.49,598.87L376.79,600.17L375.49,601.47Z" fill="#1f4e9a"/>
<line x1="375.49" y1="597.97" x2="375.49" y2="602.37" stroke="#1f4e9a" stroke-width="0.5"/>
<path d="M386.25,600.49L387.55,599.19L388.85,600.49L387.55,601.79Z" fill="#1f4e9a"/>
<line x1="387.55" y1="598.29" x2="387.55" y2="602.69" stroke="#1f4e9a" stroke-width="0.5"/>
<path d="M310.50,539.93L311.80,538.63L313.10,539.93L311.80,541.23Z" fill="#6cb43f"/>
<line x1="311.80" y1="537.73" x2="311.80" y2="542.13" stroke="#6cb43f" stroke-width="0.5"/>
<path d="M323.69,548.72L324.99,547.42L326.29,548.72L324.99,550.02Z" fill="#6cb43f"/>
<line x1="324.99" y1="546.52" x2="324.99" y2="550.92" stroke="#6cb43f" stroke-width="0.5"/>
<path d="M335.75,568.17L337.05,566.87L338.35,568.17L337.05,569.47Z" fill="#6cb43f"/>
<line x1="337.05" y1="565.97" x2="337.05" y2="570.37" stroke="#6cb43f" stroke-width="0.5"/>
<path d="M348.94,585.43L350.24,584.13L351.54,585.43L350.24,586.73Z" fill="#6cb43f"/>
<line x1="350.24" y1="583.23" x2="350.24" y2="587.63" stroke="#6cb43f" stroke-width="0.5"/>
<path d="M361.00,590.76L362.30,589.46L363.60,590.76L362.30,592.06Z" fill="#6cb43f"/>
<line x1="362.30" y1="588.56" x2="362.30" y2="592.96" stroke="#6cb43f" stroke-width="0.5"/>
<path d="M374.19,593.27L375.49,591.97L376.79,593.27L375.49,594.57Z" fill="#6cb43f"/>
<line x1="375.49" y1="591.07" x2="375.49" y2="595.47" stroke="#6cb43f" stroke-width="0.5"/>
<path d="M386.25,594.84L387.55,593.54L388.85,594.84L387.55,596.14Z" fill="#6cb43f"/>
<line x1="387.55" y1="592.64" x2="387.55" y2="597.04" stroke="#6cb43f" stroke-width="0.5"/>
<path d="M310.50,539.30L311.80,538.00L313.10,539.30L311.80,540.60Z" fill="#b0163e"/>
<line x1="311.80" y1="537.10" x2="311.80" y2="541.50" stroke="#b0163e" stroke-width="0.5"/>
<path d="M323.69,545.58L324.99,544.28L326.29,545.58L324.99,546.88Z" fill="#b0163e"/>
<line x1="324.99" y1="543.38" x2="324.99" y2="547.78" stroke="#b0163e" stroke-width="0.5"/>
<path d="M335.75,558.76L337.05,557.46L338.35,558.76L337.05,560.06Z" fill="#b0163e"/>
<line x1="337.05" y1="556.56" x2="337.05" y2="560.96" stroke="#b0163e" stroke-width="0.5"/>
<path d="M348.94,568.80L350.24,567.50L351.54,568.80L350.24,570.10Z" fill="#b0163e"/>
<line x1="350.24" y1="566.60" x2="350.24" y2="571.00" stroke="#b0163e" stroke-width="0.5"/>
<path d="M361.00,575.70L362.30,574.40L363.60,575.70L362.30,577.00Z" fill="#b0163e"/>
<line x1="362.30" y1="573.50" x2="362.30" y2="577.90" stroke="#b0163e" stroke-width="0.5"/>
<path d="M374.19,580.09L375.49,578.79L376.79,580.09L375.49,581.39Z" fill="#b0163e"/>
<line x1="375.49" y1="577.89" x2="375.49" y2="582.29" stroke="#b0163e" stroke-width="0.5"/>
<path d="M386.25,583.23L387.55,581.93L388.85,583.23L387.55,584.53Z" fill="#b0163e"/>
<line x1="387.55" y1="581.03" x2="387.55" y2="585.43" stroke="#b0163e" stroke-width="0.5"/>
<line x1="393.90" y1="534.90" x2="398.30" y2="534.90" stroke="#1f4e9a" stroke-width="0.6"/>
<path d="M394.50,534.90L396.10,533.30L397.70,534.90L396.10,536.50Z" fill="#1f4e9a"/>
<text x="402.30" y="536.70" font-size="5.0" fill="#231f20" textLength="12.70" lengthAdjust="spacingAndGlyphs">U937</text>
<line x1="393.90" y1="545.48" x2="398.30" y2="545.48" stroke="#b0163e" stroke-width="0.6"/>
<path d="M394.50,545.48L396.10,543.88L397.70,545.48L396.10,547.08Z" fill="#b0163e"/>
<text x="402.30" y="547.28" font-size="5.0" fill="#231f20" textLength="34.60" lengthAdjust="spacingAndGlyphs">U937 GCN2-/-</text>
<line x1="393.90" y1="556.06" x2="398.30" y2="556.06" stroke="#6cb43f" stroke-width="0.6"/>
<path d="M394.50,556.06L396.10,554.46L397.70,556.06L396.10,557.66Z" fill="#6cb43f"/>
<text x="402.30" y="557.86" font-size="5.0" fill="#231f20" textLength="60.70" lengthAdjust="spacingAndGlyphs">U937 GCN2-/- HA-GCN2</text>
<line x1="393.90" y1="566.64" x2="398.30" y2="566.64" stroke="#4b5a8c" stroke-width="0.6"/>
<path d="M394.50,566.64L396.10,565.04L397.70,566.64L396.10,568.24Z" fill="#4b5a8c"/>
<text x="402.30" y="568.44" font-size="5.0" fill="#231f20" textLength="95.80" lengthAdjust="spacingAndGlyphs">U937 GCN2-/- HA-GCN2-T899A/T904A</text>
<line x1="393.90" y1="577.22" x2="398.30" y2="577.22" stroke="#f0a12c" stroke-width="0.6"/>
<path d="M394.50,577.22L396.10,575.62L397.70,577.22L396.10,578.82Z" fill="#f0a12c"/>
<text x="402.30" y="579.02" font-size="5.0" fill="#231f20" textLength="77.80" lengthAdjust="spacingAndGlyphs">U937 GCN2-/- HA-GCN2-K619R</text>
<line x1="393.90" y1="587.80" x2="398.30" y2="587.80" stroke="#5a2a7e" stroke-width="0.6"/>
<path d="M394.50,587.80L396.10,586.20L397.70,587.80L396.10,589.40Z" fill="#5a2a7e"/>
<text x="402.30" y="589.60" font-size="5.0" fill="#231f20" textLength="99.90" lengthAdjust="spacingAndGlyphs">U937 GCN2-/- HA-GCN2-F1143L/R1144L</text>
</svg>
</body></html>
